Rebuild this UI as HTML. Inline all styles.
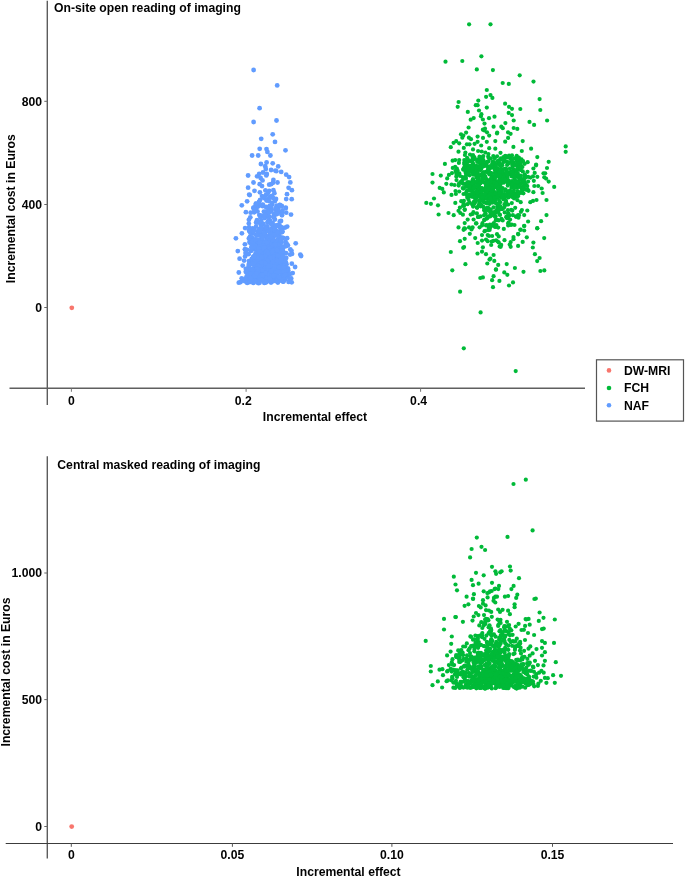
<!DOCTYPE html>
<html><head><meta charset="utf-8"><style>
html,body{margin:0;padding:0;background:#fff;}
svg{display:block;}
text{font-family:"Liberation Sans",sans-serif;font-weight:bold;font-size:12.2px;fill:#000;}
</style></head><body>
<svg width="685" height="878" viewBox="0 0 685 878">
<rect width="685" height="878" fill="#fff"/>
<g stroke="#3a3a3a" stroke-width="1.2" fill="none">
<line x1="47.3" y1="0.8" x2="47.3" y2="405" stroke="#5c5c5c" stroke-width="1.4"/>
<line x1="9.5" y1="388.2" x2="585" y2="388.2" stroke="#5f5f5f" stroke-width="1.4"/>
<line x1="44.3" y1="101.3" x2="47.5" y2="101.3" stroke="#666" stroke-width="1"/>
<line x1="44.3" y1="204.5" x2="47.5" y2="204.5" stroke="#666" stroke-width="1"/>
<line x1="44.3" y1="307.5" x2="47.5" y2="307.5" stroke="#666" stroke-width="1"/>
<line x1="71.4" y1="388.5" x2="71.4" y2="391.8" stroke="#777" stroke-width="1"/>
<line x1="246.1" y1="388.5" x2="246.1" y2="391.8" stroke="#777" stroke-width="1"/>
<line x1="420.6" y1="388.5" x2="420.6" y2="391.8" stroke="#777" stroke-width="1"/>
<line x1="47.3" y1="456.3" x2="47.3" y2="858.6" stroke="#5c5c5c" stroke-width="1.4"/>
<line x1="5.7" y1="843.5" x2="673" y2="843.5" stroke="#3c3c3c" stroke-width="1.1"/>
<line x1="44.3" y1="573" x2="47.5" y2="573" stroke="#666" stroke-width="1"/>
<line x1="44.3" y1="699.6" x2="47.5" y2="699.6" stroke="#666" stroke-width="1"/>
<line x1="44.3" y1="826.5" x2="47.5" y2="826.5" stroke="#666" stroke-width="1"/>
<line x1="71.3" y1="843.4" x2="71.3" y2="846.8" stroke="#555" stroke-width="1"/>
<line x1="232.4" y1="843.4" x2="232.4" y2="846.8" stroke="#555" stroke-width="1"/>
<line x1="391.9" y1="843.4" x2="391.9" y2="846.8" stroke="#555" stroke-width="1"/>
<line x1="552.5" y1="843.4" x2="552.5" y2="846.8" stroke="#555" stroke-width="1"/>
<rect x="596.5" y="359.8" width="87" height="61.3" fill="none" stroke="#555"/>
</g>
<g fill="#619CFF"><circle cx="267.4" cy="272.9" r="2.4"/>
<circle cx="282.6" cy="254.9" r="2.4"/>
<circle cx="281.1" cy="263.2" r="2.4"/>
<circle cx="261.1" cy="278.7" r="2.4"/>
<circle cx="263.6" cy="241.7" r="2.4"/>
<circle cx="260.9" cy="268.1" r="2.4"/>
<circle cx="273.6" cy="278.6" r="2.4"/>
<circle cx="266.4" cy="276.1" r="2.4"/>
<circle cx="275.6" cy="274.7" r="2.4"/>
<circle cx="245.8" cy="268.8" r="2.4"/>
<circle cx="285.0" cy="270.8" r="2.4"/>
<circle cx="265.9" cy="253.4" r="2.4"/>
<circle cx="274.8" cy="248.9" r="2.4"/>
<circle cx="265.4" cy="277.3" r="2.4"/>
<circle cx="262.6" cy="247.8" r="2.4"/>
<circle cx="276.5" cy="240.5" r="2.4"/>
<circle cx="264.7" cy="247.6" r="2.4"/>
<circle cx="265.2" cy="234.9" r="2.4"/>
<circle cx="274.9" cy="263.8" r="2.4"/>
<circle cx="257.0" cy="220.2" r="2.4"/>
<circle cx="249.6" cy="270.3" r="2.4"/>
<circle cx="271.5" cy="210.1" r="2.4"/>
<circle cx="259.3" cy="215.1" r="2.4"/>
<circle cx="244.9" cy="244.3" r="2.4"/>
<circle cx="257.6" cy="267.9" r="2.4"/>
<circle cx="261.6" cy="266.4" r="2.4"/>
<circle cx="253.3" cy="264.0" r="2.4"/>
<circle cx="249.8" cy="262.2" r="2.4"/>
<circle cx="267.4" cy="259.7" r="2.4"/>
<circle cx="277.3" cy="257.7" r="2.4"/>
<circle cx="258.4" cy="274.0" r="2.4"/>
<circle cx="271.4" cy="229.7" r="2.4"/>
<circle cx="275.2" cy="227.8" r="2.4"/>
<circle cx="263.5" cy="269.3" r="2.4"/>
<circle cx="273.3" cy="243.7" r="2.4"/>
<circle cx="279.0" cy="234.6" r="2.4"/>
<circle cx="264.6" cy="268.4" r="2.4"/>
<circle cx="257.6" cy="277.3" r="2.4"/>
<circle cx="271.0" cy="256.4" r="2.4"/>
<circle cx="269.8" cy="275.5" r="2.4"/>
<circle cx="279.6" cy="225.6" r="2.4"/>
<circle cx="252.2" cy="260.5" r="2.4"/>
<circle cx="259.4" cy="246.4" r="2.4"/>
<circle cx="257.4" cy="282.5" r="2.4"/>
<circle cx="268.5" cy="278.4" r="2.4"/>
<circle cx="273.1" cy="265.8" r="2.4"/>
<circle cx="258.5" cy="268.7" r="2.4"/>
<circle cx="282.9" cy="266.5" r="2.4"/>
<circle cx="271.6" cy="279.7" r="2.4"/>
<circle cx="278.0" cy="277.0" r="2.4"/>
<circle cx="251.7" cy="230.0" r="2.4"/>
<circle cx="274.1" cy="259.8" r="2.4"/>
<circle cx="273.9" cy="260.2" r="2.4"/>
<circle cx="246.7" cy="276.2" r="2.4"/>
<circle cx="271.0" cy="257.2" r="2.4"/>
<circle cx="264.1" cy="269.5" r="2.4"/>
<circle cx="276.0" cy="280.0" r="2.4"/>
<circle cx="262.0" cy="275.3" r="2.4"/>
<circle cx="266.8" cy="274.9" r="2.4"/>
<circle cx="270.9" cy="257.4" r="2.4"/>
<circle cx="256.9" cy="244.4" r="2.4"/>
<circle cx="265.8" cy="248.8" r="2.4"/>
<circle cx="272.7" cy="276.0" r="2.4"/>
<circle cx="261.0" cy="225.2" r="2.4"/>
<circle cx="279.5" cy="278.5" r="2.4"/>
<circle cx="274.0" cy="230.7" r="2.4"/>
<circle cx="265.0" cy="262.1" r="2.4"/>
<circle cx="274.3" cy="263.2" r="2.4"/>
<circle cx="281.5" cy="271.1" r="2.4"/>
<circle cx="287.6" cy="270.3" r="2.4"/>
<circle cx="248.9" cy="238.5" r="2.4"/>
<circle cx="272.3" cy="250.2" r="2.4"/>
<circle cx="265.9" cy="260.4" r="2.4"/>
<circle cx="255.4" cy="253.7" r="2.4"/>
<circle cx="281.5" cy="242.5" r="2.4"/>
<circle cx="252.5" cy="238.2" r="2.4"/>
<circle cx="273.5" cy="261.2" r="2.4"/>
<circle cx="282.0" cy="215.3" r="2.4"/>
<circle cx="248.6" cy="266.8" r="2.4"/>
<circle cx="263.5" cy="251.9" r="2.4"/>
<circle cx="251.9" cy="243.6" r="2.4"/>
<circle cx="269.8" cy="261.3" r="2.4"/>
<circle cx="284.4" cy="261.5" r="2.4"/>
<circle cx="290.3" cy="249.4" r="2.4"/>
<circle cx="260.4" cy="254.0" r="2.4"/>
<circle cx="275.1" cy="256.8" r="2.4"/>
<circle cx="285.2" cy="279.5" r="2.4"/>
<circle cx="271.8" cy="228.9" r="2.4"/>
<circle cx="258.4" cy="261.9" r="2.4"/>
<circle cx="270.4" cy="259.3" r="2.4"/>
<circle cx="266.8" cy="257.9" r="2.4"/>
<circle cx="264.7" cy="278.6" r="2.4"/>
<circle cx="258.6" cy="283.2" r="2.4"/>
<circle cx="271.5" cy="232.9" r="2.4"/>
<circle cx="265.9" cy="265.2" r="2.4"/>
<circle cx="264.5" cy="268.3" r="2.4"/>
<circle cx="252.2" cy="279.7" r="2.4"/>
<circle cx="280.9" cy="227.2" r="2.4"/>
<circle cx="264.8" cy="260.4" r="2.4"/>
<circle cx="250.4" cy="261.7" r="2.4"/>
<circle cx="282.3" cy="262.1" r="2.4"/>
<circle cx="273.1" cy="230.5" r="2.4"/>
<circle cx="291.2" cy="278.5" r="2.4"/>
<circle cx="267.7" cy="262.2" r="2.4"/>
<circle cx="261.7" cy="235.2" r="2.4"/>
<circle cx="250.4" cy="271.0" r="2.4"/>
<circle cx="282.2" cy="250.7" r="2.4"/>
<circle cx="257.6" cy="249.8" r="2.4"/>
<circle cx="259.6" cy="264.6" r="2.4"/>
<circle cx="273.9" cy="261.4" r="2.4"/>
<circle cx="257.5" cy="211.4" r="2.4"/>
<circle cx="263.9" cy="211.6" r="2.4"/>
<circle cx="269.2" cy="229.6" r="2.4"/>
<circle cx="279.6" cy="279.1" r="2.4"/>
<circle cx="267.3" cy="252.7" r="2.4"/>
<circle cx="277.6" cy="257.9" r="2.4"/>
<circle cx="262.2" cy="250.6" r="2.4"/>
<circle cx="270.8" cy="263.9" r="2.4"/>
<circle cx="242.4" cy="280.4" r="2.4"/>
<circle cx="250.3" cy="272.2" r="2.4"/>
<circle cx="276.2" cy="225.7" r="2.4"/>
<circle cx="260.2" cy="245.8" r="2.4"/>
<circle cx="273.7" cy="235.8" r="2.4"/>
<circle cx="273.2" cy="237.3" r="2.4"/>
<circle cx="282.2" cy="232.1" r="2.4"/>
<circle cx="276.3" cy="257.9" r="2.4"/>
<circle cx="278.7" cy="212.2" r="2.4"/>
<circle cx="259.0" cy="258.7" r="2.4"/>
<circle cx="258.6" cy="269.0" r="2.4"/>
<circle cx="261.4" cy="215.7" r="2.4"/>
<circle cx="254.0" cy="276.3" r="2.4"/>
<circle cx="260.7" cy="234.3" r="2.4"/>
<circle cx="265.9" cy="250.0" r="2.4"/>
<circle cx="269.9" cy="230.7" r="2.4"/>
<circle cx="263.1" cy="259.9" r="2.4"/>
<circle cx="244.9" cy="249.3" r="2.4"/>
<circle cx="266.2" cy="277.7" r="2.4"/>
<circle cx="269.6" cy="271.9" r="2.4"/>
<circle cx="279.5" cy="231.9" r="2.4"/>
<circle cx="273.6" cy="217.3" r="2.4"/>
<circle cx="259.6" cy="233.4" r="2.4"/>
<circle cx="258.7" cy="279.9" r="2.4"/>
<circle cx="290.1" cy="254.6" r="2.4"/>
<circle cx="275.7" cy="279.0" r="2.4"/>
<circle cx="288.1" cy="275.0" r="2.4"/>
<circle cx="291.5" cy="250.8" r="2.4"/>
<circle cx="257.6" cy="247.5" r="2.4"/>
<circle cx="271.4" cy="260.2" r="2.4"/>
<circle cx="272.3" cy="269.9" r="2.4"/>
<circle cx="273.4" cy="252.2" r="2.4"/>
<circle cx="273.2" cy="247.0" r="2.4"/>
<circle cx="269.3" cy="267.8" r="2.4"/>
<circle cx="269.0" cy="241.8" r="2.4"/>
<circle cx="249.7" cy="264.9" r="2.4"/>
<circle cx="265.1" cy="243.4" r="2.4"/>
<circle cx="258.4" cy="277.1" r="2.4"/>
<circle cx="268.5" cy="236.5" r="2.4"/>
<circle cx="261.6" cy="279.9" r="2.4"/>
<circle cx="274.1" cy="231.0" r="2.4"/>
<circle cx="276.4" cy="254.1" r="2.4"/>
<circle cx="270.5" cy="245.6" r="2.4"/>
<circle cx="270.6" cy="209.0" r="2.4"/>
<circle cx="268.1" cy="221.2" r="2.4"/>
<circle cx="261.9" cy="267.9" r="2.4"/>
<circle cx="265.1" cy="270.1" r="2.4"/>
<circle cx="261.3" cy="273.4" r="2.4"/>
<circle cx="271.5" cy="269.3" r="2.4"/>
<circle cx="267.2" cy="280.0" r="2.4"/>
<circle cx="273.7" cy="280.2" r="2.4"/>
<circle cx="251.7" cy="247.2" r="2.4"/>
<circle cx="258.2" cy="277.6" r="2.4"/>
<circle cx="258.6" cy="269.6" r="2.4"/>
<circle cx="264.7" cy="265.4" r="2.4"/>
<circle cx="260.5" cy="276.9" r="2.4"/>
<circle cx="270.3" cy="267.3" r="2.4"/>
<circle cx="260.4" cy="279.5" r="2.4"/>
<circle cx="254.7" cy="240.8" r="2.4"/>
<circle cx="257.3" cy="278.0" r="2.4"/>
<circle cx="282.1" cy="231.9" r="2.4"/>
<circle cx="267.5" cy="277.9" r="2.4"/>
<circle cx="253.6" cy="256.8" r="2.4"/>
<circle cx="267.1" cy="278.8" r="2.4"/>
<circle cx="249.1" cy="227.3" r="2.4"/>
<circle cx="249.5" cy="277.2" r="2.4"/>
<circle cx="272.5" cy="254.7" r="2.4"/>
<circle cx="270.5" cy="266.3" r="2.4"/>
<circle cx="278.5" cy="261.1" r="2.4"/>
<circle cx="272.4" cy="259.4" r="2.4"/>
<circle cx="270.0" cy="269.0" r="2.4"/>
<circle cx="277.9" cy="282.6" r="2.4"/>
<circle cx="268.9" cy="275.1" r="2.4"/>
<circle cx="270.9" cy="271.9" r="2.4"/>
<circle cx="265.5" cy="279.6" r="2.4"/>
<circle cx="274.3" cy="263.0" r="2.4"/>
<circle cx="276.1" cy="279.6" r="2.4"/>
<circle cx="261.2" cy="261.8" r="2.4"/>
<circle cx="254.5" cy="239.9" r="2.4"/>
<circle cx="271.2" cy="267.6" r="2.4"/>
<circle cx="261.1" cy="249.6" r="2.4"/>
<circle cx="275.0" cy="250.9" r="2.4"/>
<circle cx="261.8" cy="237.6" r="2.4"/>
<circle cx="265.6" cy="250.6" r="2.4"/>
<circle cx="268.0" cy="268.3" r="2.4"/>
<circle cx="269.2" cy="216.9" r="2.4"/>
<circle cx="255.2" cy="255.8" r="2.4"/>
<circle cx="259.0" cy="278.1" r="2.4"/>
<circle cx="250.0" cy="273.1" r="2.4"/>
<circle cx="249.6" cy="262.0" r="2.4"/>
<circle cx="256.2" cy="260.9" r="2.4"/>
<circle cx="276.5" cy="226.0" r="2.4"/>
<circle cx="286.2" cy="258.0" r="2.4"/>
<circle cx="266.7" cy="269.7" r="2.4"/>
<circle cx="279.6" cy="266.5" r="2.4"/>
<circle cx="264.0" cy="281.0" r="2.4"/>
<circle cx="245.0" cy="281.3" r="2.4"/>
<circle cx="268.7" cy="280.2" r="2.4"/>
<circle cx="272.1" cy="259.3" r="2.4"/>
<circle cx="262.1" cy="258.0" r="2.4"/>
<circle cx="270.5" cy="271.5" r="2.4"/>
<circle cx="273.6" cy="278.2" r="2.4"/>
<circle cx="257.1" cy="251.2" r="2.4"/>
<circle cx="250.0" cy="236.8" r="2.4"/>
<circle cx="264.5" cy="270.7" r="2.4"/>
<circle cx="264.6" cy="278.1" r="2.4"/>
<circle cx="262.9" cy="204.7" r="2.4"/>
<circle cx="278.4" cy="272.3" r="2.4"/>
<circle cx="262.2" cy="243.8" r="2.4"/>
<circle cx="275.0" cy="265.4" r="2.4"/>
<circle cx="277.8" cy="232.2" r="2.4"/>
<circle cx="275.2" cy="232.8" r="2.4"/>
<circle cx="279.0" cy="263.3" r="2.4"/>
<circle cx="262.5" cy="253.5" r="2.4"/>
<circle cx="275.5" cy="255.5" r="2.4"/>
<circle cx="290.3" cy="273.8" r="2.4"/>
<circle cx="276.2" cy="231.3" r="2.4"/>
<circle cx="259.9" cy="266.4" r="2.4"/>
<circle cx="274.0" cy="235.4" r="2.4"/>
<circle cx="281.5" cy="254.0" r="2.4"/>
<circle cx="271.2" cy="237.4" r="2.4"/>
<circle cx="260.5" cy="266.0" r="2.4"/>
<circle cx="284.7" cy="270.7" r="2.4"/>
<circle cx="252.6" cy="228.3" r="2.4"/>
<circle cx="272.8" cy="270.4" r="2.4"/>
<circle cx="266.8" cy="216.6" r="2.4"/>
<circle cx="253.3" cy="259.2" r="2.4"/>
<circle cx="281.0" cy="221.0" r="2.4"/>
<circle cx="271.0" cy="254.1" r="2.4"/>
<circle cx="253.6" cy="264.7" r="2.4"/>
<circle cx="273.9" cy="270.8" r="2.4"/>
<circle cx="262.0" cy="264.7" r="2.4"/>
<circle cx="245.1" cy="256.4" r="2.4"/>
<circle cx="259.1" cy="205.7" r="2.4"/>
<circle cx="270.0" cy="273.7" r="2.4"/>
<circle cx="274.3" cy="255.7" r="2.4"/>
<circle cx="268.9" cy="260.9" r="2.4"/>
<circle cx="267.5" cy="275.7" r="2.4"/>
<circle cx="272.4" cy="276.0" r="2.4"/>
<circle cx="280.5" cy="257.8" r="2.4"/>
<circle cx="268.7" cy="270.0" r="2.4"/>
<circle cx="270.4" cy="263.2" r="2.4"/>
<circle cx="273.2" cy="267.1" r="2.4"/>
<circle cx="254.8" cy="245.1" r="2.4"/>
<circle cx="258.8" cy="264.0" r="2.4"/>
<circle cx="284.6" cy="253.2" r="2.4"/>
<circle cx="270.9" cy="267.7" r="2.4"/>
<circle cx="263.7" cy="234.1" r="2.4"/>
<circle cx="270.9" cy="268.1" r="2.4"/>
<circle cx="261.5" cy="249.3" r="2.4"/>
<circle cx="270.2" cy="234.8" r="2.4"/>
<circle cx="259.3" cy="228.9" r="2.4"/>
<circle cx="270.2" cy="266.8" r="2.4"/>
<circle cx="248.9" cy="219.8" r="2.4"/>
<circle cx="282.3" cy="259.2" r="2.4"/>
<circle cx="261.1" cy="258.4" r="2.4"/>
<circle cx="248.8" cy="223.6" r="2.4"/>
<circle cx="262.7" cy="206.2" r="2.4"/>
<circle cx="268.8" cy="245.1" r="2.4"/>
<circle cx="253.8" cy="269.4" r="2.4"/>
<circle cx="271.6" cy="261.6" r="2.4"/>
<circle cx="252.3" cy="248.3" r="2.4"/>
<circle cx="270.9" cy="256.6" r="2.4"/>
<circle cx="263.4" cy="276.6" r="2.4"/>
<circle cx="269.2" cy="271.4" r="2.4"/>
<circle cx="246.2" cy="271.9" r="2.4"/>
<circle cx="253.8" cy="248.6" r="2.4"/>
<circle cx="272.3" cy="252.7" r="2.4"/>
<circle cx="266.6" cy="260.9" r="2.4"/>
<circle cx="285.8" cy="262.7" r="2.4"/>
<circle cx="258.9" cy="266.4" r="2.4"/>
<circle cx="269.0" cy="247.8" r="2.4"/>
<circle cx="258.2" cy="260.3" r="2.4"/>
<circle cx="256.6" cy="251.9" r="2.4"/>
<circle cx="266.6" cy="267.4" r="2.4"/>
<circle cx="266.5" cy="237.3" r="2.4"/>
<circle cx="276.7" cy="257.3" r="2.4"/>
<circle cx="268.5" cy="251.6" r="2.4"/>
<circle cx="258.3" cy="271.2" r="2.4"/>
<circle cx="269.4" cy="254.9" r="2.4"/>
<circle cx="281.6" cy="265.1" r="2.4"/>
<circle cx="265.4" cy="244.7" r="2.4"/>
<circle cx="256.9" cy="273.6" r="2.4"/>
<circle cx="274.2" cy="273.9" r="2.4"/>
<circle cx="265.0" cy="253.2" r="2.4"/>
<circle cx="289.2" cy="274.0" r="2.4"/>
<circle cx="277.7" cy="252.4" r="2.4"/>
<circle cx="277.2" cy="206.7" r="2.4"/>
<circle cx="269.1" cy="262.9" r="2.4"/>
<circle cx="266.5" cy="279.2" r="2.4"/>
<circle cx="270.9" cy="275.2" r="2.4"/>
<circle cx="281.9" cy="280.3" r="2.4"/>
<circle cx="273.1" cy="230.9" r="2.4"/>
<circle cx="263.0" cy="255.0" r="2.4"/>
<circle cx="281.7" cy="256.9" r="2.4"/>
<circle cx="269.2" cy="276.2" r="2.4"/>
<circle cx="266.1" cy="231.3" r="2.4"/>
<circle cx="257.9" cy="272.8" r="2.4"/>
<circle cx="260.5" cy="278.7" r="2.4"/>
<circle cx="259.7" cy="235.3" r="2.4"/>
<circle cx="278.7" cy="265.5" r="2.4"/>
<circle cx="273.5" cy="270.2" r="2.4"/>
<circle cx="264.5" cy="249.4" r="2.4"/>
<circle cx="279.0" cy="279.3" r="2.4"/>
<circle cx="272.0" cy="258.3" r="2.4"/>
<circle cx="271.3" cy="238.1" r="2.4"/>
<circle cx="264.3" cy="282.9" r="2.4"/>
<circle cx="285.5" cy="241.7" r="2.4"/>
<circle cx="288.2" cy="270.3" r="2.4"/>
<circle cx="283.4" cy="268.9" r="2.4"/>
<circle cx="241.7" cy="278.3" r="2.4"/>
<circle cx="267.3" cy="226.4" r="2.4"/>
<circle cx="265.6" cy="272.6" r="2.4"/>
<circle cx="269.5" cy="279.9" r="2.4"/>
<circle cx="249.8" cy="272.2" r="2.4"/>
<circle cx="272.2" cy="259.8" r="2.4"/>
<circle cx="261.9" cy="258.3" r="2.4"/>
<circle cx="271.0" cy="282.5" r="2.4"/>
<circle cx="272.3" cy="250.9" r="2.4"/>
<circle cx="265.7" cy="264.5" r="2.4"/>
<circle cx="270.6" cy="279.7" r="2.4"/>
<circle cx="266.8" cy="263.2" r="2.4"/>
<circle cx="275.7" cy="209.2" r="2.4"/>
<circle cx="272.8" cy="275.4" r="2.4"/>
<circle cx="260.7" cy="244.2" r="2.4"/>
<circle cx="260.2" cy="274.4" r="2.4"/>
<circle cx="287.1" cy="238.2" r="2.4"/>
<circle cx="265.8" cy="282.6" r="2.4"/>
<circle cx="278.4" cy="238.2" r="2.4"/>
<circle cx="271.5" cy="209.8" r="2.4"/>
<circle cx="260.5" cy="260.0" r="2.4"/>
<circle cx="258.4" cy="273.0" r="2.4"/>
<circle cx="268.4" cy="240.2" r="2.4"/>
<circle cx="270.0" cy="220.6" r="2.4"/>
<circle cx="274.1" cy="257.1" r="2.4"/>
<circle cx="252.4" cy="276.0" r="2.4"/>
<circle cx="260.2" cy="272.3" r="2.4"/>
<circle cx="265.9" cy="265.5" r="2.4"/>
<circle cx="285.4" cy="274.5" r="2.4"/>
<circle cx="272.0" cy="261.0" r="2.4"/>
<circle cx="260.8" cy="254.2" r="2.4"/>
<circle cx="272.0" cy="276.0" r="2.4"/>
<circle cx="271.2" cy="270.9" r="2.4"/>
<circle cx="285.0" cy="275.3" r="2.4"/>
<circle cx="271.1" cy="278.8" r="2.4"/>
<circle cx="272.0" cy="257.0" r="2.4"/>
<circle cx="271.3" cy="277.6" r="2.4"/>
<circle cx="258.4" cy="261.0" r="2.4"/>
<circle cx="273.2" cy="228.8" r="2.4"/>
<circle cx="264.6" cy="216.3" r="2.4"/>
<circle cx="257.7" cy="206.7" r="2.4"/>
<circle cx="266.6" cy="277.6" r="2.4"/>
<circle cx="264.4" cy="256.8" r="2.4"/>
<circle cx="275.7" cy="272.3" r="2.4"/>
<circle cx="266.5" cy="279.1" r="2.4"/>
<circle cx="283.7" cy="247.2" r="2.4"/>
<circle cx="278.4" cy="224.9" r="2.4"/>
<circle cx="281.6" cy="214.5" r="2.4"/>
<circle cx="265.7" cy="277.8" r="2.4"/>
<circle cx="262.2" cy="240.8" r="2.4"/>
<circle cx="263.8" cy="269.9" r="2.4"/>
<circle cx="277.9" cy="242.3" r="2.4"/>
<circle cx="268.3" cy="252.0" r="2.4"/>
<circle cx="249.9" cy="276.5" r="2.4"/>
<circle cx="266.6" cy="240.6" r="2.4"/>
<circle cx="250.7" cy="279.5" r="2.4"/>
<circle cx="268.9" cy="271.7" r="2.4"/>
<circle cx="253.2" cy="245.4" r="2.4"/>
<circle cx="268.4" cy="278.3" r="2.4"/>
<circle cx="266.1" cy="267.3" r="2.4"/>
<circle cx="247.9" cy="271.8" r="2.4"/>
<circle cx="275.6" cy="267.4" r="2.4"/>
<circle cx="250.0" cy="241.3" r="2.4"/>
<circle cx="287.9" cy="268.3" r="2.4"/>
<circle cx="259.1" cy="256.4" r="2.4"/>
<circle cx="261.3" cy="269.3" r="2.4"/>
<circle cx="264.9" cy="274.3" r="2.4"/>
<circle cx="250.4" cy="269.4" r="2.4"/>
<circle cx="281.9" cy="229.9" r="2.4"/>
<circle cx="272.7" cy="256.8" r="2.4"/>
<circle cx="258.4" cy="278.7" r="2.4"/>
<circle cx="263.8" cy="277.1" r="2.4"/>
<circle cx="249.6" cy="242.5" r="2.4"/>
<circle cx="263.0" cy="265.7" r="2.4"/>
<circle cx="277.8" cy="276.1" r="2.4"/>
<circle cx="262.0" cy="224.1" r="2.4"/>
<circle cx="268.7" cy="278.2" r="2.4"/>
<circle cx="279.1" cy="257.4" r="2.4"/>
<circle cx="282.5" cy="256.3" r="2.4"/>
<circle cx="261.7" cy="243.4" r="2.4"/>
<circle cx="258.5" cy="205.6" r="2.4"/>
<circle cx="272.2" cy="204.6" r="2.4"/>
<circle cx="262.8" cy="241.2" r="2.4"/>
<circle cx="263.4" cy="223.9" r="2.4"/>
<circle cx="279.4" cy="233.6" r="2.4"/>
<circle cx="286.4" cy="271.0" r="2.4"/>
<circle cx="270.1" cy="272.3" r="2.4"/>
<circle cx="264.8" cy="246.6" r="2.4"/>
<circle cx="245.3" cy="249.4" r="2.4"/>
<circle cx="266.8" cy="277.6" r="2.4"/>
<circle cx="254.8" cy="241.3" r="2.4"/>
<circle cx="275.3" cy="247.8" r="2.4"/>
<circle cx="268.6" cy="276.2" r="2.4"/>
<circle cx="264.8" cy="242.7" r="2.4"/>
<circle cx="275.2" cy="258.5" r="2.4"/>
<circle cx="285.7" cy="267.6" r="2.4"/>
<circle cx="258.6" cy="259.8" r="2.4"/>
<circle cx="274.9" cy="219.5" r="2.4"/>
<circle cx="275.3" cy="256.6" r="2.4"/>
<circle cx="249.2" cy="263.6" r="2.4"/>
<circle cx="277.8" cy="253.4" r="2.4"/>
<circle cx="282.6" cy="281.3" r="2.4"/>
<circle cx="269.6" cy="206.1" r="2.4"/>
<circle cx="266.3" cy="272.1" r="2.4"/>
<circle cx="276.1" cy="232.5" r="2.4"/>
<circle cx="249.3" cy="279.8" r="2.4"/>
<circle cx="268.1" cy="216.6" r="2.4"/>
<circle cx="279.1" cy="245.6" r="2.4"/>
<circle cx="252.7" cy="274.5" r="2.4"/>
<circle cx="278.4" cy="277.4" r="2.4"/>
<circle cx="262.2" cy="260.0" r="2.4"/>
<circle cx="265.8" cy="262.5" r="2.4"/>
<circle cx="270.7" cy="232.3" r="2.4"/>
<circle cx="253.5" cy="244.7" r="2.4"/>
<circle cx="279.1" cy="251.2" r="2.4"/>
<circle cx="258.5" cy="249.9" r="2.4"/>
<circle cx="271.1" cy="277.5" r="2.4"/>
<circle cx="260.2" cy="276.5" r="2.4"/>
<circle cx="263.3" cy="216.4" r="2.4"/>
<circle cx="280.7" cy="265.3" r="2.4"/>
<circle cx="269.5" cy="231.7" r="2.4"/>
<circle cx="262.5" cy="248.8" r="2.4"/>
<circle cx="252.6" cy="249.4" r="2.4"/>
<circle cx="280.3" cy="243.9" r="2.4"/>
<circle cx="275.4" cy="266.5" r="2.4"/>
<circle cx="263.2" cy="259.3" r="2.4"/>
<circle cx="269.8" cy="240.5" r="2.4"/>
<circle cx="255.2" cy="277.9" r="2.4"/>
<circle cx="255.3" cy="247.5" r="2.4"/>
<circle cx="257.5" cy="231.3" r="2.4"/>
<circle cx="271.1" cy="258.5" r="2.4"/>
<circle cx="270.4" cy="245.7" r="2.4"/>
<circle cx="258.4" cy="252.6" r="2.4"/>
<circle cx="275.5" cy="280.5" r="2.4"/>
<circle cx="276.0" cy="265.6" r="2.4"/>
<circle cx="269.0" cy="247.7" r="2.4"/>
<circle cx="278.9" cy="264.2" r="2.4"/>
<circle cx="263.7" cy="229.7" r="2.4"/>
<circle cx="265.7" cy="211.6" r="2.4"/>
<circle cx="272.4" cy="272.5" r="2.4"/>
<circle cx="266.6" cy="273.9" r="2.4"/>
<circle cx="276.1" cy="281.2" r="2.4"/>
<circle cx="252.6" cy="233.7" r="2.4"/>
<circle cx="283.4" cy="281.2" r="2.4"/>
<circle cx="258.0" cy="249.4" r="2.4"/>
<circle cx="251.2" cy="262.4" r="2.4"/>
<circle cx="273.9" cy="264.2" r="2.4"/>
<circle cx="281.6" cy="274.2" r="2.4"/>
<circle cx="279.3" cy="280.7" r="2.4"/>
<circle cx="276.6" cy="211.3" r="2.4"/>
<circle cx="249.1" cy="230.6" r="2.4"/>
<circle cx="258.0" cy="257.0" r="2.4"/>
<circle cx="261.7" cy="261.6" r="2.4"/>
<circle cx="256.3" cy="259.9" r="2.4"/>
<circle cx="279.9" cy="253.9" r="2.4"/>
<circle cx="269.1" cy="266.1" r="2.4"/>
<circle cx="266.7" cy="261.9" r="2.4"/>
<circle cx="272.6" cy="225.0" r="2.4"/>
<circle cx="256.1" cy="257.2" r="2.4"/>
<circle cx="256.6" cy="255.3" r="2.4"/>
<circle cx="256.9" cy="263.1" r="2.4"/>
<circle cx="272.7" cy="260.9" r="2.4"/>
<circle cx="270.9" cy="265.1" r="2.4"/>
<circle cx="273.6" cy="230.1" r="2.4"/>
<circle cx="279.4" cy="261.9" r="2.4"/>
<circle cx="268.7" cy="271.7" r="2.4"/>
<circle cx="251.5" cy="276.3" r="2.4"/>
<circle cx="260.9" cy="258.2" r="2.4"/>
<circle cx="278.7" cy="263.7" r="2.4"/>
<circle cx="279.7" cy="227.1" r="2.4"/>
<circle cx="279.4" cy="248.3" r="2.4"/>
<circle cx="264.6" cy="218.0" r="2.4"/>
<circle cx="279.4" cy="271.2" r="2.4"/>
<circle cx="270.9" cy="265.3" r="2.4"/>
<circle cx="282.2" cy="276.2" r="2.4"/>
<circle cx="262.8" cy="257.7" r="2.4"/>
<circle cx="260.0" cy="264.1" r="2.4"/>
<circle cx="266.9" cy="275.2" r="2.4"/>
<circle cx="273.9" cy="269.0" r="2.4"/>
<circle cx="268.8" cy="273.4" r="2.4"/>
<circle cx="273.4" cy="272.2" r="2.4"/>
<circle cx="248.6" cy="254.2" r="2.4"/>
<circle cx="257.1" cy="270.4" r="2.4"/>
<circle cx="268.9" cy="258.5" r="2.4"/>
<circle cx="256.3" cy="267.9" r="2.4"/>
<circle cx="251.6" cy="244.3" r="2.4"/>
<circle cx="253.1" cy="272.7" r="2.4"/>
<circle cx="256.4" cy="268.8" r="2.4"/>
<circle cx="264.9" cy="231.8" r="2.4"/>
<circle cx="255.2" cy="266.6" r="2.4"/>
<circle cx="269.7" cy="252.6" r="2.4"/>
<circle cx="286.5" cy="264.2" r="2.4"/>
<circle cx="265.3" cy="281.7" r="2.4"/>
<circle cx="281.7" cy="212.5" r="2.4"/>
<circle cx="270.3" cy="272.8" r="2.4"/>
<circle cx="254.1" cy="212.3" r="2.4"/>
<circle cx="264.1" cy="261.8" r="2.4"/>
<circle cx="255.7" cy="205.7" r="2.4"/>
<circle cx="275.8" cy="264.7" r="2.4"/>
<circle cx="253.7" cy="248.7" r="2.4"/>
<circle cx="282.2" cy="238.0" r="2.4"/>
<circle cx="273.6" cy="280.0" r="2.4"/>
<circle cx="276.0" cy="278.3" r="2.4"/>
<circle cx="284.9" cy="227.7" r="2.4"/>
<circle cx="257.9" cy="265.0" r="2.4"/>
<circle cx="278.3" cy="263.2" r="2.4"/>
<circle cx="269.9" cy="244.5" r="2.4"/>
<circle cx="247.9" cy="280.4" r="2.4"/>
<circle cx="272.5" cy="281.4" r="2.4"/>
<circle cx="271.6" cy="268.3" r="2.4"/>
<circle cx="260.1" cy="273.8" r="2.4"/>
<circle cx="276.5" cy="277.6" r="2.4"/>
<circle cx="268.3" cy="246.5" r="2.4"/>
<circle cx="263.3" cy="251.0" r="2.4"/>
<circle cx="274.1" cy="216.2" r="2.4"/>
<circle cx="285.9" cy="270.7" r="2.4"/>
<circle cx="252.8" cy="278.2" r="2.4"/>
<circle cx="273.5" cy="254.2" r="2.4"/>
<circle cx="271.0" cy="270.0" r="2.4"/>
<circle cx="250.6" cy="261.1" r="2.4"/>
<circle cx="285.6" cy="277.7" r="2.4"/>
<circle cx="256.0" cy="226.7" r="2.4"/>
<circle cx="287.0" cy="276.4" r="2.4"/>
<circle cx="267.6" cy="266.8" r="2.4"/>
<circle cx="265.1" cy="269.2" r="2.4"/>
<circle cx="284.3" cy="268.4" r="2.4"/>
<circle cx="269.6" cy="242.6" r="2.4"/>
<circle cx="270.7" cy="211.7" r="2.4"/>
<circle cx="281.8" cy="206.0" r="2.4"/>
<circle cx="277.3" cy="260.0" r="2.4"/>
<circle cx="248.9" cy="261.1" r="2.4"/>
<circle cx="280.0" cy="261.2" r="2.4"/>
<circle cx="256.3" cy="247.9" r="2.4"/>
<circle cx="268.7" cy="254.6" r="2.4"/>
<circle cx="252.3" cy="241.2" r="2.4"/>
<circle cx="285.7" cy="244.6" r="2.4"/>
<circle cx="255.3" cy="274.1" r="2.4"/>
<circle cx="264.8" cy="264.7" r="2.4"/>
<circle cx="280.9" cy="271.1" r="2.4"/>
<circle cx="250.7" cy="279.0" r="2.4"/>
<circle cx="266.6" cy="214.9" r="2.4"/>
<circle cx="264.6" cy="278.3" r="2.4"/>
<circle cx="272.4" cy="267.1" r="2.4"/>
<circle cx="261.7" cy="228.4" r="2.4"/>
<circle cx="269.8" cy="248.1" r="2.4"/>
<circle cx="262.7" cy="264.2" r="2.4"/>
<circle cx="272.4" cy="239.1" r="2.4"/>
<circle cx="265.8" cy="268.7" r="2.4"/>
<circle cx="259.5" cy="245.3" r="2.4"/>
<circle cx="266.7" cy="242.8" r="2.4"/>
<circle cx="271.2" cy="252.1" r="2.4"/>
<circle cx="261.4" cy="246.1" r="2.4"/>
<circle cx="270.5" cy="233.7" r="2.4"/>
<circle cx="283.8" cy="268.0" r="2.4"/>
<circle cx="253.3" cy="282.9" r="2.4"/>
<circle cx="265.7" cy="260.9" r="2.4"/>
<circle cx="271.5" cy="280.9" r="2.4"/>
<circle cx="280.9" cy="261.6" r="2.4"/>
<circle cx="264.4" cy="257.4" r="2.4"/>
<circle cx="240.4" cy="282.2" r="2.4"/>
<circle cx="278.7" cy="262.9" r="2.4"/>
<circle cx="269.1" cy="259.1" r="2.4"/>
<circle cx="252.1" cy="259.4" r="2.4"/>
<circle cx="279.8" cy="221.5" r="2.4"/>
<circle cx="249.3" cy="230.9" r="2.4"/>
<circle cx="283.7" cy="272.3" r="2.4"/>
<circle cx="258.2" cy="241.4" r="2.4"/>
<circle cx="254.3" cy="230.1" r="2.4"/>
<circle cx="276.7" cy="205.6" r="2.4"/>
<circle cx="254.4" cy="280.7" r="2.4"/>
<circle cx="276.9" cy="276.7" r="2.4"/>
<circle cx="253.3" cy="256.7" r="2.4"/>
<circle cx="276.3" cy="262.4" r="2.4"/>
<circle cx="268.1" cy="253.8" r="2.4"/>
<circle cx="269.7" cy="275.8" r="2.4"/>
<circle cx="245.2" cy="279.0" r="2.4"/>
<circle cx="263.8" cy="272.2" r="2.4"/>
<circle cx="262.4" cy="280.0" r="2.4"/>
<circle cx="252.6" cy="261.5" r="2.4"/>
<circle cx="286.7" cy="243.7" r="2.4"/>
<circle cx="263.4" cy="267.0" r="2.4"/>
<circle cx="253.9" cy="208.2" r="2.4"/>
<circle cx="286.1" cy="253.1" r="2.4"/>
<circle cx="264.8" cy="281.9" r="2.4"/>
<circle cx="256.8" cy="235.5" r="2.4"/>
<circle cx="267.2" cy="281.5" r="2.4"/>
<circle cx="259.1" cy="250.4" r="2.4"/>
<circle cx="263.4" cy="248.2" r="2.4"/>
<circle cx="271.5" cy="247.9" r="2.4"/>
<circle cx="268.7" cy="258.1" r="2.4"/>
<circle cx="271.0" cy="207.4" r="2.4"/>
<circle cx="266.3" cy="281.3" r="2.4"/>
<circle cx="276.7" cy="231.1" r="2.4"/>
<circle cx="277.1" cy="247.0" r="2.4"/>
<circle cx="262.7" cy="274.3" r="2.4"/>
<circle cx="268.2" cy="275.3" r="2.4"/>
<circle cx="271.8" cy="244.0" r="2.4"/>
<circle cx="264.9" cy="276.6" r="2.4"/>
<circle cx="267.1" cy="236.5" r="2.4"/>
<circle cx="254.4" cy="209.8" r="2.4"/>
<circle cx="274.8" cy="226.7" r="2.4"/>
<circle cx="261.3" cy="221.0" r="2.4"/>
<circle cx="270.8" cy="234.3" r="2.4"/>
<circle cx="265.5" cy="227.7" r="2.4"/>
<circle cx="258.2" cy="281.6" r="2.4"/>
<circle cx="260.7" cy="274.3" r="2.4"/>
<circle cx="260.2" cy="258.4" r="2.4"/>
<circle cx="280.4" cy="268.5" r="2.4"/>
<circle cx="258.7" cy="239.6" r="2.4"/>
<circle cx="260.4" cy="277.1" r="2.4"/>
<circle cx="260.6" cy="262.4" r="2.4"/>
<circle cx="284.1" cy="275.5" r="2.4"/>
<circle cx="282.1" cy="246.9" r="2.4"/>
<circle cx="265.2" cy="272.0" r="2.4"/>
<circle cx="250.7" cy="212.7" r="2.4"/>
<circle cx="272.2" cy="258.5" r="2.4"/>
<circle cx="274.7" cy="273.0" r="2.4"/>
<circle cx="278.1" cy="234.6" r="2.4"/>
<circle cx="280.9" cy="229.2" r="2.4"/>
<circle cx="283.0" cy="250.9" r="2.4"/>
<circle cx="283.4" cy="281.7" r="2.4"/>
<circle cx="269.0" cy="276.6" r="2.4"/>
<circle cx="260.5" cy="217.6" r="2.4"/>
<circle cx="288.6" cy="281.9" r="2.4"/>
<circle cx="278.3" cy="244.1" r="2.4"/>
<circle cx="246.4" cy="269.7" r="2.4"/>
<circle cx="268.0" cy="273.6" r="2.4"/>
<circle cx="265.4" cy="274.3" r="2.4"/>
<circle cx="261.1" cy="273.5" r="2.4"/>
<circle cx="250.3" cy="232.8" r="2.4"/>
<circle cx="276.9" cy="233.9" r="2.4"/>
<circle cx="256.2" cy="206.6" r="2.4"/>
<circle cx="262.7" cy="249.3" r="2.4"/>
<circle cx="260.1" cy="256.2" r="2.4"/>
<circle cx="258.6" cy="222.4" r="2.4"/>
<circle cx="259.2" cy="247.0" r="2.4"/>
<circle cx="256.1" cy="222.5" r="2.4"/>
<circle cx="261.6" cy="280.1" r="2.4"/>
<circle cx="278.1" cy="269.5" r="2.4"/>
<circle cx="268.4" cy="209.0" r="2.4"/>
<circle cx="269.7" cy="276.0" r="2.4"/>
<circle cx="263.2" cy="248.0" r="2.4"/>
<circle cx="264.0" cy="255.9" r="2.4"/>
<circle cx="269.5" cy="279.6" r="2.4"/>
<circle cx="245.8" cy="271.7" r="2.4"/>
<circle cx="285.5" cy="261.8" r="2.4"/>
<circle cx="257.9" cy="275.9" r="2.4"/>
<circle cx="260.5" cy="269.9" r="2.4"/>
<circle cx="282.4" cy="251.2" r="2.4"/>
<circle cx="269.6" cy="222.4" r="2.4"/>
<circle cx="267.5" cy="222.4" r="2.4"/>
<circle cx="260.3" cy="230.9" r="2.4"/>
<circle cx="249.0" cy="274.7" r="2.4"/>
<circle cx="269.1" cy="255.2" r="2.4"/>
<circle cx="280.7" cy="279.3" r="2.4"/>
<circle cx="256.7" cy="257.0" r="2.4"/>
<circle cx="272.8" cy="256.9" r="2.4"/>
<circle cx="267.0" cy="277.2" r="2.4"/>
<circle cx="274.9" cy="243.2" r="2.4"/>
<circle cx="258.5" cy="269.3" r="2.4"/>
<circle cx="255.1" cy="246.1" r="2.4"/>
<circle cx="245.5" cy="253.1" r="2.4"/>
<circle cx="253.2" cy="268.6" r="2.4"/>
<circle cx="250.6" cy="273.8" r="2.4"/>
<circle cx="270.5" cy="280.4" r="2.4"/>
<circle cx="259.4" cy="259.7" r="2.4"/>
<circle cx="244.1" cy="260.6" r="2.4"/>
<circle cx="257.4" cy="257.7" r="2.4"/>
<circle cx="252.6" cy="269.3" r="2.4"/>
<circle cx="281.3" cy="280.0" r="2.4"/>
<circle cx="280.4" cy="271.4" r="2.4"/>
<circle cx="253.8" cy="277.5" r="2.4"/>
<circle cx="250.0" cy="281.4" r="2.4"/>
<circle cx="255.5" cy="239.4" r="2.4"/>
<circle cx="263.4" cy="245.9" r="2.4"/>
<circle cx="257.7" cy="222.4" r="2.4"/>
<circle cx="266.7" cy="269.0" r="2.4"/>
<circle cx="280.8" cy="259.4" r="2.4"/>
<circle cx="251.0" cy="250.9" r="2.4"/>
<circle cx="262.6" cy="270.5" r="2.4"/>
<circle cx="292.0" cy="253.8" r="2.4"/>
<circle cx="287.9" cy="245.3" r="2.4"/>
<circle cx="277.9" cy="240.5" r="2.4"/>
<circle cx="265.5" cy="253.5" r="2.4"/>
<circle cx="274.6" cy="261.0" r="2.4"/>
<circle cx="270.2" cy="255.8" r="2.4"/>
<circle cx="251.6" cy="260.6" r="2.4"/>
<circle cx="251.8" cy="258.8" r="2.4"/>
<circle cx="258.9" cy="248.4" r="2.4"/>
<circle cx="263.0" cy="275.1" r="2.4"/>
<circle cx="273.6" cy="244.9" r="2.4"/>
<circle cx="275.1" cy="243.2" r="2.4"/>
<circle cx="270.0" cy="274.0" r="2.4"/>
<circle cx="256.1" cy="234.8" r="2.4"/>
<circle cx="265.6" cy="226.6" r="2.4"/>
<circle cx="280.6" cy="237.3" r="2.4"/>
<circle cx="256.5" cy="269.7" r="2.4"/>
<circle cx="261.5" cy="254.8" r="2.4"/>
<circle cx="272.4" cy="250.1" r="2.4"/>
<circle cx="264.8" cy="235.9" r="2.4"/>
<circle cx="272.8" cy="239.8" r="2.4"/>
<circle cx="272.3" cy="266.4" r="2.4"/>
<circle cx="261.1" cy="265.6" r="2.4"/>
<circle cx="267.9" cy="268.7" r="2.4"/>
<circle cx="269.3" cy="265.7" r="2.4"/>
<circle cx="259.6" cy="251.8" r="2.4"/>
<circle cx="254.1" cy="256.5" r="2.4"/>
<circle cx="268.6" cy="270.8" r="2.4"/>
<circle cx="278.1" cy="255.8" r="2.4"/>
<circle cx="274.4" cy="266.3" r="2.4"/>
<circle cx="272.7" cy="262.0" r="2.4"/>
<circle cx="272.8" cy="257.1" r="2.4"/>
<circle cx="270.0" cy="274.1" r="2.4"/>
<circle cx="279.0" cy="277.1" r="2.4"/>
<circle cx="289.5" cy="278.7" r="2.4"/>
<circle cx="267.6" cy="273.5" r="2.4"/>
<circle cx="270.0" cy="253.7" r="2.4"/>
<circle cx="279.0" cy="267.1" r="2.4"/>
<circle cx="286.4" cy="246.0" r="2.4"/>
<circle cx="270.6" cy="253.0" r="2.4"/>
<circle cx="271.2" cy="223.2" r="2.4"/>
<circle cx="253.1" cy="261.8" r="2.4"/>
<circle cx="279.9" cy="250.6" r="2.4"/>
<circle cx="264.1" cy="233.0" r="2.4"/>
<circle cx="247.2" cy="282.9" r="2.4"/>
<circle cx="265.3" cy="273.2" r="2.4"/>
<circle cx="247.1" cy="249.8" r="2.4"/>
<circle cx="256.5" cy="269.7" r="2.4"/>
<circle cx="279.4" cy="239.7" r="2.4"/>
<circle cx="250.2" cy="229.4" r="2.4"/>
<circle cx="270.1" cy="229.7" r="2.4"/>
<circle cx="273.5" cy="216.2" r="2.4"/>
<circle cx="283.9" cy="272.1" r="2.4"/>
<circle cx="277.7" cy="232.1" r="2.4"/>
<circle cx="269.8" cy="275.3" r="2.4"/>
<circle cx="268.0" cy="262.7" r="2.4"/>
<circle cx="266.4" cy="263.5" r="2.4"/>
<circle cx="280.2" cy="240.8" r="2.4"/>
<circle cx="259.6" cy="265.3" r="2.4"/>
<circle cx="273.1" cy="250.5" r="2.4"/>
<circle cx="266.0" cy="255.3" r="2.4"/>
<circle cx="269.9" cy="257.1" r="2.4"/>
<circle cx="264.1" cy="247.4" r="2.4"/>
<circle cx="291.7" cy="282.3" r="2.4"/>
<circle cx="259.6" cy="282.7" r="2.4"/>
<circle cx="270.0" cy="279.0" r="2.4"/>
<circle cx="270.3" cy="265.7" r="2.4"/>
<circle cx="274.1" cy="213.7" r="2.4"/>
<circle cx="272.3" cy="269.6" r="2.4"/>
<circle cx="272.0" cy="274.7" r="2.4"/>
<circle cx="278.4" cy="272.0" r="2.4"/>
<circle cx="249.8" cy="282.1" r="2.4"/>
<circle cx="267.2" cy="252.4" r="2.4"/>
<circle cx="253.0" cy="247.0" r="2.4"/>
<circle cx="269.8" cy="278.6" r="2.4"/>
<circle cx="253.5" cy="231.4" r="2.4"/>
<circle cx="256.1" cy="208.4" r="2.4"/>
<circle cx="266.4" cy="251.9" r="2.4"/>
<circle cx="283.2" cy="238.0" r="2.4"/>
<circle cx="273.8" cy="275.8" r="2.4"/>
<circle cx="270.6" cy="257.6" r="2.4"/>
<circle cx="283.3" cy="267.1" r="2.4"/>
<circle cx="256.3" cy="269.4" r="2.4"/>
<circle cx="262.3" cy="275.1" r="2.4"/>
<circle cx="264.0" cy="216.6" r="2.4"/>
<circle cx="281.4" cy="227.4" r="2.4"/>
<circle cx="291.8" cy="263.7" r="2.4"/>
<circle cx="285.1" cy="274.6" r="2.4"/>
<circle cx="276.8" cy="235.4" r="2.4"/>
<circle cx="271.4" cy="236.9" r="2.4"/>
<circle cx="295.1" cy="267.0" r="2.4"/>
<circle cx="268.1" cy="231.3" r="2.4"/>
<circle cx="261.7" cy="257.1" r="2.4"/>
<circle cx="268.8" cy="213.1" r="2.4"/>
<circle cx="251.4" cy="247.3" r="2.4"/>
<circle cx="272.6" cy="222.9" r="2.4"/>
<circle cx="265.9" cy="265.6" r="2.4"/>
<circle cx="271.0" cy="271.0" r="2.4"/>
<circle cx="271.3" cy="271.1" r="2.4"/>
<circle cx="255.0" cy="276.1" r="2.4"/>
<circle cx="282.3" cy="231.2" r="2.4"/>
<circle cx="255.5" cy="281.2" r="2.4"/>
<circle cx="277.4" cy="261.1" r="2.4"/>
<circle cx="248.8" cy="264.8" r="2.4"/>
<circle cx="271.4" cy="224.5" r="2.4"/>
<circle cx="267.7" cy="260.9" r="2.4"/>
<circle cx="259.7" cy="242.5" r="2.4"/>
<circle cx="254.4" cy="262.4" r="2.4"/>
<circle cx="268.0" cy="253.6" r="2.4"/>
<circle cx="274.4" cy="234.8" r="2.4"/>
<circle cx="250.3" cy="217.3" r="2.4"/>
<circle cx="242.7" cy="265.6" r="2.4"/>
<circle cx="257.1" cy="269.0" r="2.4"/>
<circle cx="264.7" cy="214.7" r="2.4"/>
<circle cx="259.9" cy="222.1" r="2.4"/>
<circle cx="257.9" cy="271.2" r="2.4"/>
<circle cx="277.0" cy="214.0" r="2.4"/>
<circle cx="278.3" cy="208.5" r="2.4"/>
<circle cx="275.7" cy="208.1" r="2.4"/>
<circle cx="256.4" cy="273.5" r="2.4"/>
<circle cx="265.0" cy="263.1" r="2.4"/>
<circle cx="250.8" cy="278.1" r="2.4"/>
<circle cx="277.3" cy="232.5" r="2.4"/>
<circle cx="268.2" cy="266.5" r="2.4"/>
<circle cx="261.6" cy="262.4" r="2.4"/>
<circle cx="283.5" cy="267.1" r="2.4"/>
<circle cx="276.0" cy="225.6" r="2.4"/>
<circle cx="277.0" cy="250.1" r="2.4"/>
<circle cx="281.0" cy="240.0" r="2.4"/>
<circle cx="275.4" cy="244.8" r="2.4"/>
<circle cx="252.6" cy="264.0" r="2.4"/>
<circle cx="262.7" cy="237.9" r="2.4"/>
<circle cx="253.6" cy="70.0" r="2.4"/>
<circle cx="277.2" cy="85.4" r="2.4"/>
<circle cx="259.6" cy="108.2" r="2.4"/>
<circle cx="253.6" cy="122.0" r="2.4"/>
<circle cx="276.5" cy="120.5" r="2.4"/>
<circle cx="272.7" cy="134.3" r="2.4"/>
<circle cx="261.2" cy="138.8" r="2.4"/>
<circle cx="275.0" cy="141.9" r="2.4"/>
<circle cx="259.7" cy="148.8" r="2.4"/>
<circle cx="266.5" cy="149.1" r="2.4"/>
<circle cx="267.4" cy="151.9" r="2.4"/>
<circle cx="285.5" cy="150.3" r="2.4"/>
<circle cx="252.1" cy="155.5" r="2.4"/>
<circle cx="258.2" cy="155.5" r="2.4"/>
<circle cx="270.4" cy="155.5" r="2.4"/>
<circle cx="260.9" cy="164.0" r="2.4"/>
<circle cx="266.6" cy="162.4" r="2.4"/>
<circle cx="272.7" cy="163.3" r="2.4"/>
<circle cx="278.2" cy="166.4" r="2.4"/>
<circle cx="265.2" cy="166.2" r="2.4"/>
<circle cx="265.8" cy="169.0" r="2.4"/>
<circle cx="271.1" cy="170.0" r="2.4"/>
<circle cx="275.3" cy="170.6" r="2.4"/>
<circle cx="276.3" cy="171.2" r="2.4"/>
<circle cx="281.2" cy="171.9" r="2.4"/>
<circle cx="286.2" cy="174.7" r="2.4"/>
<circle cx="289.1" cy="177.1" r="2.4"/>
<circle cx="248.1" cy="175.5" r="2.4"/>
<circle cx="257.1" cy="176.3" r="2.4"/>
<circle cx="259.2" cy="173.8" r="2.4"/>
<circle cx="263.0" cy="172.5" r="2.4"/>
<circle cx="266.8" cy="174.0" r="2.4"/>
<circle cx="266.3" cy="175.4" r="2.4"/>
<circle cx="260.6" cy="178.0" r="2.4"/>
<circle cx="262.5" cy="180.4" r="2.4"/>
<circle cx="273.4" cy="179.9" r="2.4"/>
<circle cx="277.5" cy="182.5" r="2.4"/>
<circle cx="273.0" cy="182.8" r="2.4"/>
<circle cx="290.3" cy="182.4" r="2.4"/>
<circle cx="253.5" cy="182.5" r="2.4"/>
<circle cx="259.7" cy="184.2" r="2.4"/>
<circle cx="262.0" cy="186.1" r="2.4"/>
<circle cx="269.2" cy="184.7" r="2.4"/>
<circle cx="271.1" cy="184.2" r="2.4"/>
<circle cx="248.1" cy="187.7" r="2.4"/>
<circle cx="288.6" cy="187.8" r="2.4"/>
<circle cx="291.9" cy="190.2" r="2.4"/>
<circle cx="254.5" cy="190.8" r="2.4"/>
<circle cx="259.9" cy="192.3" r="2.4"/>
<circle cx="265.4" cy="190.4" r="2.4"/>
<circle cx="269.2" cy="190.8" r="2.4"/>
<circle cx="273.4" cy="190.2" r="2.4"/>
<circle cx="274.4" cy="193.2" r="2.4"/>
<circle cx="249.2" cy="194.6" r="2.4"/>
<circle cx="287.0" cy="194.2" r="2.4"/>
<circle cx="249.7" cy="195.1" r="2.4"/>
<circle cx="247.1" cy="201.3" r="2.4"/>
<circle cx="241.8" cy="205.3" r="2.4"/>
<circle cx="245.9" cy="212.2" r="2.4"/>
<circle cx="286.2" cy="199.1" r="2.4"/>
<circle cx="291.7" cy="199.2" r="2.4"/>
<circle cx="285.8" cy="208.1" r="2.4"/>
<circle cx="291.0" cy="214.6" r="2.4"/>
<circle cx="262.0" cy="196.1" r="2.4"/>
<circle cx="260.1" cy="199.9" r="2.4"/>
<circle cx="255.9" cy="203.7" r="2.4"/>
<circle cx="253.5" cy="207.9" r="2.4"/>
<circle cx="279.6" cy="205.1" r="2.4"/>
<circle cx="282.4" cy="210.3" r="2.4"/>
<circle cx="286.2" cy="212.7" r="2.4"/>
<circle cx="245.1" cy="228.1" r="2.4"/>
<circle cx="241.9" cy="233.3" r="2.4"/>
<circle cx="235.9" cy="238.3" r="2.4"/>
<circle cx="287.2" cy="226.6" r="2.4"/>
<circle cx="295.7" cy="243.3" r="2.4"/>
<circle cx="300.3" cy="254.6" r="2.4"/>
<circle cx="301.1" cy="256.0" r="2.4"/>
<circle cx="292.7" cy="273.1" r="2.4"/>
<circle cx="238.8" cy="272.5" r="2.4"/>
<circle cx="238.8" cy="282.7" r="2.4"/>
<circle cx="237.8" cy="251.1" r="2.4"/>
<circle cx="239.6" cy="258.7" r="2.4"/>
<circle cx="266.0" cy="195.0" r="2.4"/>
<circle cx="270.0" cy="197.0" r="2.4"/>
<circle cx="268.0" cy="199.0" r="2.4"/>
<circle cx="272.0" cy="196.0" r="2.4"/>
<circle cx="264.0" cy="198.0" r="2.4"/>
<circle cx="276.0" cy="199.0" r="2.4"/>
<circle cx="268.0" cy="193.0" r="2.4"/>
<circle cx="273.0" cy="198.0" r="2.4"/>
<circle cx="275.0" cy="201.0" r="2.4"/>
<circle cx="269.0" cy="201.0" r="2.4"/>
<circle cx="272.0" cy="203.0" r="2.4"/>
<circle cx="266.5" cy="200.5" r="2.4"/>
<circle cx="258.9" cy="201.9" r="2.4"/>
<circle cx="256.0" cy="203.9" r="2.4"/>
<circle cx="253.6" cy="207.7" r="2.4"/>
<circle cx="254.8" cy="210.0" r="2.4"/>
<circle cx="279.9" cy="204.8" r="2.4"/>
<circle cx="285.7" cy="207.7" r="2.4"/>
<circle cx="262.0" cy="205.0" r="2.4"/>
<circle cx="266.0" cy="207.0" r="2.4"/>
<circle cx="270.0" cy="206.0" r="2.4"/></g>
<g fill="#00BA38"><circle cx="478.5" cy="167.7" r="2.1"/>
<circle cx="480.5" cy="170.1" r="2.1"/>
<circle cx="492.7" cy="188.8" r="2.1"/>
<circle cx="503.4" cy="157.2" r="2.1"/>
<circle cx="514.4" cy="195.9" r="2.1"/>
<circle cx="524.0" cy="181.7" r="2.1"/>
<circle cx="519.1" cy="163.4" r="2.1"/>
<circle cx="488.4" cy="191.4" r="2.1"/>
<circle cx="518.2" cy="160.4" r="2.1"/>
<circle cx="499.1" cy="180.9" r="2.1"/>
<circle cx="523.1" cy="181.2" r="2.1"/>
<circle cx="506.4" cy="173.7" r="2.1"/>
<circle cx="515.5" cy="184.8" r="2.1"/>
<circle cx="497.5" cy="161.2" r="2.1"/>
<circle cx="498.6" cy="174.4" r="2.1"/>
<circle cx="473.5" cy="164.9" r="2.1"/>
<circle cx="513.4" cy="174.7" r="2.1"/>
<circle cx="507.5" cy="195.0" r="2.1"/>
<circle cx="513.5" cy="162.6" r="2.1"/>
<circle cx="482.7" cy="194.8" r="2.1"/>
<circle cx="472.0" cy="165.8" r="2.1"/>
<circle cx="523.4" cy="193.3" r="2.1"/>
<circle cx="525.2" cy="177.8" r="2.1"/>
<circle cx="494.8" cy="168.3" r="2.1"/>
<circle cx="480.8" cy="174.7" r="2.1"/>
<circle cx="490.8" cy="158.7" r="2.1"/>
<circle cx="493.9" cy="184.0" r="2.1"/>
<circle cx="521.7" cy="179.1" r="2.1"/>
<circle cx="467.0" cy="171.9" r="2.1"/>
<circle cx="511.8" cy="176.4" r="2.1"/>
<circle cx="477.4" cy="191.6" r="2.1"/>
<circle cx="488.2" cy="188.8" r="2.1"/>
<circle cx="485.3" cy="165.0" r="2.1"/>
<circle cx="519.1" cy="159.3" r="2.1"/>
<circle cx="468.9" cy="194.6" r="2.1"/>
<circle cx="477.5" cy="189.0" r="2.1"/>
<circle cx="484.0" cy="165.1" r="2.1"/>
<circle cx="509.2" cy="173.9" r="2.1"/>
<circle cx="509.8" cy="192.4" r="2.1"/>
<circle cx="504.3" cy="179.3" r="2.1"/>
<circle cx="483.9" cy="189.5" r="2.1"/>
<circle cx="522.4" cy="189.9" r="2.1"/>
<circle cx="517.7" cy="173.0" r="2.1"/>
<circle cx="470.4" cy="161.2" r="2.1"/>
<circle cx="489.4" cy="198.3" r="2.1"/>
<circle cx="498.7" cy="163.4" r="2.1"/>
<circle cx="502.9" cy="197.9" r="2.1"/>
<circle cx="482.6" cy="158.0" r="2.1"/>
<circle cx="518.8" cy="192.3" r="2.1"/>
<circle cx="466.9" cy="167.3" r="2.1"/>
<circle cx="505.5" cy="168.5" r="2.1"/>
<circle cx="488.1" cy="169.9" r="2.1"/>
<circle cx="469.9" cy="171.1" r="2.1"/>
<circle cx="482.3" cy="158.1" r="2.1"/>
<circle cx="505.1" cy="158.1" r="2.1"/>
<circle cx="493.3" cy="183.2" r="2.1"/>
<circle cx="474.8" cy="194.4" r="2.1"/>
<circle cx="520.2" cy="192.5" r="2.1"/>
<circle cx="493.4" cy="198.1" r="2.1"/>
<circle cx="469.5" cy="182.3" r="2.1"/>
<circle cx="471.8" cy="166.4" r="2.1"/>
<circle cx="498.1" cy="194.1" r="2.1"/>
<circle cx="487.6" cy="192.7" r="2.1"/>
<circle cx="504.1" cy="197.9" r="2.1"/>
<circle cx="511.8" cy="196.8" r="2.1"/>
<circle cx="499.3" cy="189.2" r="2.1"/>
<circle cx="512.8" cy="195.1" r="2.1"/>
<circle cx="474.8" cy="158.7" r="2.1"/>
<circle cx="502.8" cy="174.7" r="2.1"/>
<circle cx="524.7" cy="163.8" r="2.1"/>
<circle cx="520.6" cy="168.0" r="2.1"/>
<circle cx="496.9" cy="171.2" r="2.1"/>
<circle cx="499.2" cy="194.5" r="2.1"/>
<circle cx="486.4" cy="179.0" r="2.1"/>
<circle cx="484.0" cy="195.3" r="2.1"/>
<circle cx="500.0" cy="172.0" r="2.1"/>
<circle cx="511.7" cy="194.4" r="2.1"/>
<circle cx="488.7" cy="169.9" r="2.1"/>
<circle cx="483.0" cy="175.2" r="2.1"/>
<circle cx="487.0" cy="161.9" r="2.1"/>
<circle cx="514.1" cy="175.5" r="2.1"/>
<circle cx="500.9" cy="158.4" r="2.1"/>
<circle cx="523.0" cy="186.3" r="2.1"/>
<circle cx="481.3" cy="158.7" r="2.1"/>
<circle cx="515.4" cy="176.7" r="2.1"/>
<circle cx="479.3" cy="160.2" r="2.1"/>
<circle cx="523.5" cy="183.1" r="2.1"/>
<circle cx="473.3" cy="170.0" r="2.1"/>
<circle cx="473.4" cy="157.1" r="2.1"/>
<circle cx="519.8" cy="183.0" r="2.1"/>
<circle cx="493.8" cy="164.2" r="2.1"/>
<circle cx="477.9" cy="160.7" r="2.1"/>
<circle cx="487.9" cy="197.3" r="2.1"/>
<circle cx="469.6" cy="175.3" r="2.1"/>
<circle cx="475.1" cy="167.4" r="2.1"/>
<circle cx="509.4" cy="173.1" r="2.1"/>
<circle cx="519.2" cy="167.4" r="2.1"/>
<circle cx="495.7" cy="164.3" r="2.1"/>
<circle cx="472.9" cy="184.4" r="2.1"/>
<circle cx="515.7" cy="183.0" r="2.1"/>
<circle cx="502.0" cy="195.9" r="2.1"/>
<circle cx="484.8" cy="165.9" r="2.1"/>
<circle cx="480.4" cy="195.4" r="2.1"/>
<circle cx="507.6" cy="172.0" r="2.1"/>
<circle cx="514.1" cy="170.0" r="2.1"/>
<circle cx="492.6" cy="161.9" r="2.1"/>
<circle cx="494.2" cy="192.3" r="2.1"/>
<circle cx="510.4" cy="193.6" r="2.1"/>
<circle cx="490.6" cy="167.9" r="2.1"/>
<circle cx="511.9" cy="184.3" r="2.1"/>
<circle cx="482.5" cy="174.6" r="2.1"/>
<circle cx="498.3" cy="175.8" r="2.1"/>
<circle cx="485.1" cy="179.0" r="2.1"/>
<circle cx="518.5" cy="163.1" r="2.1"/>
<circle cx="505.2" cy="155.8" r="2.1"/>
<circle cx="467.4" cy="165.8" r="2.1"/>
<circle cx="509.1" cy="155.7" r="2.1"/>
<circle cx="508.3" cy="192.0" r="2.1"/>
<circle cx="497.5" cy="173.3" r="2.1"/>
<circle cx="517.8" cy="164.0" r="2.1"/>
<circle cx="494.7" cy="194.8" r="2.1"/>
<circle cx="485.8" cy="183.5" r="2.1"/>
<circle cx="474.3" cy="195.7" r="2.1"/>
<circle cx="485.5" cy="198.2" r="2.1"/>
<circle cx="480.5" cy="165.2" r="2.1"/>
<circle cx="499.0" cy="186.4" r="2.1"/>
<circle cx="507.1" cy="164.9" r="2.1"/>
<circle cx="481.6" cy="188.4" r="2.1"/>
<circle cx="507.1" cy="179.7" r="2.1"/>
<circle cx="505.9" cy="179.1" r="2.1"/>
<circle cx="508.8" cy="180.6" r="2.1"/>
<circle cx="502.7" cy="176.1" r="2.1"/>
<circle cx="495.7" cy="170.9" r="2.1"/>
<circle cx="469.2" cy="172.2" r="2.1"/>
<circle cx="486.0" cy="163.2" r="2.1"/>
<circle cx="481.7" cy="166.5" r="2.1"/>
<circle cx="475.3" cy="174.8" r="2.1"/>
<circle cx="507.5" cy="191.3" r="2.1"/>
<circle cx="522.4" cy="167.0" r="2.1"/>
<circle cx="476.6" cy="191.9" r="2.1"/>
<circle cx="510.8" cy="158.9" r="2.1"/>
<circle cx="520.8" cy="165.7" r="2.1"/>
<circle cx="467.9" cy="159.4" r="2.1"/>
<circle cx="470.2" cy="168.4" r="2.1"/>
<circle cx="510.0" cy="191.2" r="2.1"/>
<circle cx="524.7" cy="175.4" r="2.1"/>
<circle cx="481.3" cy="161.2" r="2.1"/>
<circle cx="487.2" cy="195.7" r="2.1"/>
<circle cx="478.1" cy="176.0" r="2.1"/>
<circle cx="517.4" cy="177.0" r="2.1"/>
<circle cx="502.0" cy="169.7" r="2.1"/>
<circle cx="493.4" cy="180.7" r="2.1"/>
<circle cx="466.4" cy="191.8" r="2.1"/>
<circle cx="515.2" cy="186.8" r="2.1"/>
<circle cx="495.2" cy="172.3" r="2.1"/>
<circle cx="487.7" cy="184.3" r="2.1"/>
<circle cx="499.4" cy="191.7" r="2.1"/>
<circle cx="477.7" cy="183.5" r="2.1"/>
<circle cx="494.3" cy="167.3" r="2.1"/>
<circle cx="515.2" cy="158.6" r="2.1"/>
<circle cx="518.3" cy="162.1" r="2.1"/>
<circle cx="483.9" cy="182.5" r="2.1"/>
<circle cx="477.8" cy="189.3" r="2.1"/>
<circle cx="480.6" cy="162.6" r="2.1"/>
<circle cx="505.2" cy="190.7" r="2.1"/>
<circle cx="468.2" cy="183.0" r="2.1"/>
<circle cx="514.7" cy="182.8" r="2.1"/>
<circle cx="468.9" cy="184.7" r="2.1"/>
<circle cx="511.3" cy="193.2" r="2.1"/>
<circle cx="471.5" cy="171.5" r="2.1"/>
<circle cx="495.0" cy="180.5" r="2.1"/>
<circle cx="512.3" cy="164.6" r="2.1"/>
<circle cx="519.7" cy="165.9" r="2.1"/>
<circle cx="489.5" cy="166.6" r="2.1"/>
<circle cx="491.2" cy="195.8" r="2.1"/>
<circle cx="488.5" cy="196.5" r="2.1"/>
<circle cx="494.0" cy="177.9" r="2.1"/>
<circle cx="498.6" cy="171.7" r="2.1"/>
<circle cx="464.2" cy="169.5" r="2.1"/>
<circle cx="518.5" cy="163.1" r="2.1"/>
<circle cx="477.8" cy="172.1" r="2.1"/>
<circle cx="510.0" cy="190.6" r="2.1"/>
<circle cx="477.9" cy="159.9" r="2.1"/>
<circle cx="495.8" cy="171.3" r="2.1"/>
<circle cx="472.5" cy="167.5" r="2.1"/>
<circle cx="498.5" cy="192.1" r="2.1"/>
<circle cx="490.3" cy="180.0" r="2.1"/>
<circle cx="478.1" cy="180.4" r="2.1"/>
<circle cx="482.1" cy="163.7" r="2.1"/>
<circle cx="489.4" cy="180.4" r="2.1"/>
<circle cx="502.8" cy="180.7" r="2.1"/>
<circle cx="517.2" cy="173.4" r="2.1"/>
<circle cx="500.1" cy="178.8" r="2.1"/>
<circle cx="525.9" cy="184.5" r="2.1"/>
<circle cx="478.3" cy="196.4" r="2.1"/>
<circle cx="492.3" cy="184.0" r="2.1"/>
<circle cx="510.3" cy="172.0" r="2.1"/>
<circle cx="515.2" cy="184.4" r="2.1"/>
<circle cx="506.4" cy="156.3" r="2.1"/>
<circle cx="517.9" cy="169.1" r="2.1"/>
<circle cx="477.2" cy="172.8" r="2.1"/>
<circle cx="509.6" cy="183.2" r="2.1"/>
<circle cx="516.9" cy="175.5" r="2.1"/>
<circle cx="483.9" cy="172.3" r="2.1"/>
<circle cx="502.6" cy="188.2" r="2.1"/>
<circle cx="497.1" cy="156.3" r="2.1"/>
<circle cx="514.3" cy="170.1" r="2.1"/>
<circle cx="516.8" cy="183.9" r="2.1"/>
<circle cx="474.4" cy="159.2" r="2.1"/>
<circle cx="465.6" cy="178.0" r="2.1"/>
<circle cx="466.2" cy="174.9" r="2.1"/>
<circle cx="505.1" cy="161.3" r="2.1"/>
<circle cx="496.0" cy="197.3" r="2.1"/>
<circle cx="507.1" cy="161.5" r="2.1"/>
<circle cx="480.0" cy="159.7" r="2.1"/>
<circle cx="488.7" cy="169.5" r="2.1"/>
<circle cx="519.5" cy="178.8" r="2.1"/>
<circle cx="472.6" cy="158.7" r="2.1"/>
<circle cx="474.2" cy="187.2" r="2.1"/>
<circle cx="477.6" cy="161.2" r="2.1"/>
<circle cx="513.1" cy="164.3" r="2.1"/>
<circle cx="522.8" cy="171.4" r="2.1"/>
<circle cx="523.1" cy="161.2" r="2.1"/>
<circle cx="481.2" cy="160.2" r="2.1"/>
<circle cx="499.5" cy="163.4" r="2.1"/>
<circle cx="471.7" cy="186.2" r="2.1"/>
<circle cx="478.7" cy="169.1" r="2.1"/>
<circle cx="491.8" cy="189.7" r="2.1"/>
<circle cx="466.9" cy="166.1" r="2.1"/>
<circle cx="499.2" cy="183.3" r="2.1"/>
<circle cx="503.8" cy="173.0" r="2.1"/>
<circle cx="472.2" cy="189.5" r="2.1"/>
<circle cx="514.7" cy="158.3" r="2.1"/>
<circle cx="512.8" cy="168.2" r="2.1"/>
<circle cx="488.1" cy="188.1" r="2.1"/>
<circle cx="467.5" cy="190.5" r="2.1"/>
<circle cx="473.0" cy="163.3" r="2.1"/>
<circle cx="520.7" cy="183.7" r="2.1"/>
<circle cx="518.8" cy="168.1" r="2.1"/>
<circle cx="473.2" cy="174.7" r="2.1"/>
<circle cx="520.4" cy="169.8" r="2.1"/>
<circle cx="503.5" cy="162.1" r="2.1"/>
<circle cx="510.8" cy="162.0" r="2.1"/>
<circle cx="488.4" cy="161.6" r="2.1"/>
<circle cx="492.7" cy="198.3" r="2.1"/>
<circle cx="500.1" cy="188.8" r="2.1"/>
<circle cx="520.9" cy="175.7" r="2.1"/>
<circle cx="473.1" cy="179.8" r="2.1"/>
<circle cx="481.1" cy="175.8" r="2.1"/>
<circle cx="518.1" cy="176.1" r="2.1"/>
<circle cx="488.1" cy="167.5" r="2.1"/>
<circle cx="497.4" cy="168.5" r="2.1"/>
<circle cx="480.6" cy="181.3" r="2.1"/>
<circle cx="510.9" cy="157.5" r="2.1"/>
<circle cx="489.9" cy="180.3" r="2.1"/>
<circle cx="470.5" cy="168.1" r="2.1"/>
<circle cx="479.5" cy="156.7" r="2.1"/>
<circle cx="479.9" cy="162.7" r="2.1"/>
<circle cx="502.2" cy="197.1" r="2.1"/>
<circle cx="490.7" cy="172.9" r="2.1"/>
<circle cx="506.4" cy="169.2" r="2.1"/>
<circle cx="475.2" cy="182.5" r="2.1"/>
<circle cx="525.1" cy="183.7" r="2.1"/>
<circle cx="494.7" cy="182.5" r="2.1"/>
<circle cx="489.0" cy="158.3" r="2.1"/>
<circle cx="481.2" cy="169.0" r="2.1"/>
<circle cx="472.8" cy="188.5" r="2.1"/>
<circle cx="498.7" cy="173.8" r="2.1"/>
<circle cx="487.8" cy="189.8" r="2.1"/>
<circle cx="509.3" cy="156.8" r="2.1"/>
<circle cx="504.1" cy="160.2" r="2.1"/>
<circle cx="481.4" cy="196.4" r="2.1"/>
<circle cx="518.9" cy="186.5" r="2.1"/>
<circle cx="513.3" cy="172.3" r="2.1"/>
<circle cx="500.8" cy="159.5" r="2.1"/>
<circle cx="512.5" cy="166.1" r="2.1"/>
<circle cx="506.2" cy="176.8" r="2.1"/>
<circle cx="482.6" cy="165.6" r="2.1"/>
<circle cx="511.8" cy="194.4" r="2.1"/>
<circle cx="521.2" cy="192.8" r="2.1"/>
<circle cx="511.9" cy="160.3" r="2.1"/>
<circle cx="492.1" cy="167.1" r="2.1"/>
<circle cx="487.7" cy="170.3" r="2.1"/>
<circle cx="476.3" cy="196.7" r="2.1"/>
<circle cx="492.5" cy="163.5" r="2.1"/>
<circle cx="515.1" cy="197.4" r="2.1"/>
<circle cx="516.7" cy="155.9" r="2.1"/>
<circle cx="490.4" cy="184.1" r="2.1"/>
<circle cx="498.9" cy="184.8" r="2.1"/>
<circle cx="505.6" cy="179.8" r="2.1"/>
<circle cx="483.2" cy="164.5" r="2.1"/>
<circle cx="521.7" cy="188.5" r="2.1"/>
<circle cx="485.0" cy="191.4" r="2.1"/>
<circle cx="503.8" cy="180.4" r="2.1"/>
<circle cx="493.4" cy="177.1" r="2.1"/>
<circle cx="500.1" cy="173.5" r="2.1"/>
<circle cx="477.8" cy="194.9" r="2.1"/>
<circle cx="472.9" cy="179.2" r="2.1"/>
<circle cx="501.1" cy="171.6" r="2.1"/>
<circle cx="512.0" cy="181.2" r="2.1"/>
<circle cx="501.1" cy="181.3" r="2.1"/>
<circle cx="479.7" cy="157.3" r="2.1"/>
<circle cx="478.9" cy="168.5" r="2.1"/>
<circle cx="475.6" cy="182.6" r="2.1"/>
<circle cx="520.6" cy="160.0" r="2.1"/>
<circle cx="476.9" cy="169.3" r="2.1"/>
<circle cx="495.4" cy="185.6" r="2.1"/>
<circle cx="474.6" cy="186.6" r="2.1"/>
<circle cx="467.7" cy="169.3" r="2.1"/>
<circle cx="478.9" cy="181.4" r="2.1"/>
<circle cx="468.2" cy="185.4" r="2.1"/>
<circle cx="497.4" cy="195.5" r="2.1"/>
<circle cx="506.4" cy="173.9" r="2.1"/>
<circle cx="489.6" cy="191.0" r="2.1"/>
<circle cx="490.1" cy="166.4" r="2.1"/>
<circle cx="475.4" cy="168.9" r="2.1"/>
<circle cx="515.1" cy="196.4" r="2.1"/>
<circle cx="480.0" cy="163.4" r="2.1"/>
<circle cx="524.0" cy="186.9" r="2.1"/>
<circle cx="483.6" cy="172.4" r="2.1"/>
<circle cx="517.5" cy="174.0" r="2.1"/>
<circle cx="504.1" cy="194.0" r="2.1"/>
<circle cx="483.3" cy="156.1" r="2.1"/>
<circle cx="521.9" cy="191.6" r="2.1"/>
<circle cx="505.4" cy="179.4" r="2.1"/>
<circle cx="464.7" cy="166.9" r="2.1"/>
<circle cx="504.8" cy="176.0" r="2.1"/>
<circle cx="518.8" cy="187.0" r="2.1"/>
<circle cx="506.6" cy="171.5" r="2.1"/>
<circle cx="516.8" cy="160.9" r="2.1"/>
<circle cx="507.1" cy="181.2" r="2.1"/>
<circle cx="488.7" cy="184.6" r="2.1"/>
<circle cx="525.4" cy="176.6" r="2.1"/>
<circle cx="483.1" cy="178.3" r="2.1"/>
<circle cx="488.7" cy="184.8" r="2.1"/>
<circle cx="478.6" cy="176.3" r="2.1"/>
<circle cx="486.6" cy="181.8" r="2.1"/>
<circle cx="500.1" cy="197.1" r="2.1"/>
<circle cx="495.6" cy="166.9" r="2.1"/>
<circle cx="499.7" cy="164.4" r="2.1"/>
<circle cx="521.5" cy="159.4" r="2.1"/>
<circle cx="476.5" cy="177.6" r="2.1"/>
<circle cx="469.1" cy="184.6" r="2.1"/>
<circle cx="495.7" cy="173.6" r="2.1"/>
<circle cx="518.9" cy="167.4" r="2.1"/>
<circle cx="494.6" cy="158.3" r="2.1"/>
<circle cx="510.8" cy="191.6" r="2.1"/>
<circle cx="479.1" cy="184.9" r="2.1"/>
<circle cx="520.8" cy="162.6" r="2.1"/>
<circle cx="481.1" cy="157.4" r="2.1"/>
<circle cx="516.5" cy="185.8" r="2.1"/>
<circle cx="503.7" cy="169.2" r="2.1"/>
<circle cx="472.4" cy="181.0" r="2.1"/>
<circle cx="514.5" cy="179.1" r="2.1"/>
<circle cx="514.3" cy="177.4" r="2.1"/>
<circle cx="497.4" cy="184.8" r="2.1"/>
<circle cx="491.7" cy="194.6" r="2.1"/>
<circle cx="508.4" cy="157.4" r="2.1"/>
<circle cx="474.6" cy="183.0" r="2.1"/>
<circle cx="493.3" cy="156.0" r="2.1"/>
<circle cx="510.2" cy="193.6" r="2.1"/>
<circle cx="513.2" cy="193.9" r="2.1"/>
<circle cx="514.7" cy="193.4" r="2.1"/>
<circle cx="515.1" cy="185.7" r="2.1"/>
<circle cx="504.9" cy="177.7" r="2.1"/>
<circle cx="490.9" cy="181.7" r="2.1"/>
<circle cx="502.3" cy="172.5" r="2.1"/>
<circle cx="494.2" cy="167.7" r="2.1"/>
<circle cx="482.6" cy="165.4" r="2.1"/>
<circle cx="470.1" cy="190.6" r="2.1"/>
<circle cx="507.8" cy="193.8" r="2.1"/>
<circle cx="482.5" cy="180.8" r="2.1"/>
<circle cx="506.8" cy="196.7" r="2.1"/>
<circle cx="508.3" cy="197.4" r="2.1"/>
<circle cx="495.4" cy="184.2" r="2.1"/>
<circle cx="476.5" cy="165.8" r="2.1"/>
<circle cx="472.2" cy="166.2" r="2.1"/>
<circle cx="505.4" cy="180.6" r="2.1"/>
<circle cx="494.9" cy="192.3" r="2.1"/>
<circle cx="481.3" cy="190.5" r="2.1"/>
<circle cx="492.9" cy="185.4" r="2.1"/>
<circle cx="519.7" cy="180.0" r="2.1"/>
<circle cx="477.5" cy="190.9" r="2.1"/>
<circle cx="517.9" cy="163.5" r="2.1"/>
<circle cx="488.9" cy="186.4" r="2.1"/>
<circle cx="472.8" cy="173.3" r="2.1"/>
<circle cx="517.9" cy="157.6" r="2.1"/>
<circle cx="518.9" cy="183.0" r="2.1"/>
<circle cx="518.3" cy="168.2" r="2.1"/>
<circle cx="485.7" cy="188.5" r="2.1"/>
<circle cx="508.6" cy="163.5" r="2.1"/>
<circle cx="485.4" cy="176.9" r="2.1"/>
<circle cx="466.8" cy="161.2" r="2.1"/>
<circle cx="466.0" cy="164.8" r="2.1"/>
<circle cx="523.8" cy="180.7" r="2.1"/>
<circle cx="518.0" cy="166.1" r="2.1"/>
<circle cx="486.0" cy="171.8" r="2.1"/>
<circle cx="505.2" cy="173.3" r="2.1"/>
<circle cx="474.3" cy="157.1" r="2.1"/>
<circle cx="467.9" cy="182.1" r="2.1"/>
<circle cx="509.3" cy="192.4" r="2.1"/>
<circle cx="467.6" cy="162.2" r="2.1"/>
<circle cx="494.2" cy="182.7" r="2.1"/>
<circle cx="478.9" cy="186.8" r="2.1"/>
<circle cx="486.3" cy="196.6" r="2.1"/>
<circle cx="524.1" cy="189.0" r="2.1"/>
<circle cx="477.4" cy="195.9" r="2.1"/>
<circle cx="505.4" cy="175.5" r="2.1"/>
<circle cx="487.7" cy="172.3" r="2.1"/>
<circle cx="482.8" cy="160.0" r="2.1"/>
<circle cx="508.0" cy="156.9" r="2.1"/>
<circle cx="502.3" cy="165.2" r="2.1"/>
<circle cx="478.3" cy="179.1" r="2.1"/>
<circle cx="472.4" cy="160.6" r="2.1"/>
<circle cx="516.4" cy="171.7" r="2.1"/>
<circle cx="493.9" cy="186.0" r="2.1"/>
<circle cx="491.5" cy="175.4" r="2.1"/>
<circle cx="486.6" cy="192.4" r="2.1"/>
<circle cx="517.7" cy="191.1" r="2.1"/>
<circle cx="498.3" cy="185.7" r="2.1"/>
<circle cx="512.0" cy="155.4" r="2.1"/>
<circle cx="485.7" cy="187.3" r="2.1"/>
<circle cx="480.8" cy="160.6" r="2.1"/>
<circle cx="477.6" cy="185.7" r="2.1"/>
<circle cx="473.2" cy="182.2" r="2.1"/>
<circle cx="521.5" cy="166.3" r="2.1"/>
<circle cx="516.5" cy="181.1" r="2.1"/>
<circle cx="468.3" cy="186.5" r="2.1"/>
<circle cx="473.0" cy="192.1" r="2.1"/>
<circle cx="520.7" cy="169.8" r="2.1"/>
<circle cx="520.4" cy="163.4" r="2.1"/>
<circle cx="477.8" cy="194.3" r="2.1"/>
<circle cx="488.2" cy="183.9" r="2.1"/>
<circle cx="499.6" cy="178.4" r="2.1"/>
<circle cx="508.2" cy="204.5" r="2.1"/>
<circle cx="489.7" cy="182.4" r="2.1"/>
<circle cx="481.9" cy="188.1" r="2.1"/>
<circle cx="474.4" cy="202.4" r="2.1"/>
<circle cx="491.7" cy="195.4" r="2.1"/>
<circle cx="477.2" cy="207.8" r="2.1"/>
<circle cx="498.4" cy="206.2" r="2.1"/>
<circle cx="472.7" cy="169.2" r="2.1"/>
<circle cx="488.6" cy="208.1" r="2.1"/>
<circle cx="504.9" cy="194.4" r="2.1"/>
<circle cx="509.3" cy="215.6" r="2.1"/>
<circle cx="459.0" cy="183.4" r="2.1"/>
<circle cx="498.9" cy="220.3" r="2.1"/>
<circle cx="490.8" cy="214.3" r="2.1"/>
<circle cx="490.7" cy="185.5" r="2.1"/>
<circle cx="476.9" cy="181.2" r="2.1"/>
<circle cx="493.5" cy="207.3" r="2.1"/>
<circle cx="513.9" cy="190.4" r="2.1"/>
<circle cx="487.4" cy="209.9" r="2.1"/>
<circle cx="502.3" cy="209.1" r="2.1"/>
<circle cx="509.1" cy="195.1" r="2.1"/>
<circle cx="461.8" cy="181.0" r="2.1"/>
<circle cx="495.0" cy="177.2" r="2.1"/>
<circle cx="517.8" cy="192.3" r="2.1"/>
<circle cx="487.7" cy="199.1" r="2.1"/>
<circle cx="492.2" cy="200.9" r="2.1"/>
<circle cx="465.6" cy="193.8" r="2.1"/>
<circle cx="527.5" cy="171.8" r="2.1"/>
<circle cx="499.9" cy="159.8" r="2.1"/>
<circle cx="484.8" cy="175.7" r="2.1"/>
<circle cx="518.5" cy="217.7" r="2.1"/>
<circle cx="472.3" cy="184.2" r="2.1"/>
<circle cx="492.4" cy="213.8" r="2.1"/>
<circle cx="486.8" cy="225.2" r="2.1"/>
<circle cx="494.2" cy="165.6" r="2.1"/>
<circle cx="503.9" cy="207.8" r="2.1"/>
<circle cx="497.4" cy="206.3" r="2.1"/>
<circle cx="495.8" cy="220.3" r="2.1"/>
<circle cx="481.9" cy="194.5" r="2.1"/>
<circle cx="501.6" cy="196.4" r="2.1"/>
<circle cx="469.5" cy="187.9" r="2.1"/>
<circle cx="490.2" cy="198.2" r="2.1"/>
<circle cx="490.9" cy="193.0" r="2.1"/>
<circle cx="469.9" cy="165.8" r="2.1"/>
<circle cx="479.3" cy="200.8" r="2.1"/>
<circle cx="497.5" cy="175.9" r="2.1"/>
<circle cx="489.5" cy="228.4" r="2.1"/>
<circle cx="508.2" cy="218.1" r="2.1"/>
<circle cx="499.5" cy="214.5" r="2.1"/>
<circle cx="515.9" cy="195.6" r="2.1"/>
<circle cx="483.3" cy="177.6" r="2.1"/>
<circle cx="479.5" cy="202.1" r="2.1"/>
<circle cx="485.4" cy="213.1" r="2.1"/>
<circle cx="503.5" cy="199.5" r="2.1"/>
<circle cx="497.0" cy="188.0" r="2.1"/>
<circle cx="467.7" cy="185.2" r="2.1"/>
<circle cx="486.7" cy="165.6" r="2.1"/>
<circle cx="480.1" cy="159.8" r="2.1"/>
<circle cx="476.9" cy="213.4" r="2.1"/>
<circle cx="491.3" cy="197.6" r="2.1"/>
<circle cx="478.4" cy="206.1" r="2.1"/>
<circle cx="496.9" cy="181.4" r="2.1"/>
<circle cx="521.9" cy="210.0" r="2.1"/>
<circle cx="476.2" cy="166.8" r="2.1"/>
<circle cx="498.6" cy="189.8" r="2.1"/>
<circle cx="476.8" cy="207.4" r="2.1"/>
<circle cx="501.9" cy="197.2" r="2.1"/>
<circle cx="500.3" cy="194.4" r="2.1"/>
<circle cx="487.4" cy="194.3" r="2.1"/>
<circle cx="503.8" cy="198.6" r="2.1"/>
<circle cx="464.7" cy="209.3" r="2.1"/>
<circle cx="489.6" cy="204.0" r="2.1"/>
<circle cx="493.2" cy="212.9" r="2.1"/>
<circle cx="455.5" cy="191.0" r="2.1"/>
<circle cx="524.4" cy="177.7" r="2.1"/>
<circle cx="484.1" cy="176.2" r="2.1"/>
<circle cx="484.1" cy="210.3" r="2.1"/>
<circle cx="508.0" cy="213.5" r="2.1"/>
<circle cx="497.5" cy="198.0" r="2.1"/>
<circle cx="498.6" cy="161.0" r="2.1"/>
<circle cx="483.2" cy="198.8" r="2.1"/>
<circle cx="463.0" cy="205.9" r="2.1"/>
<circle cx="488.1" cy="230.1" r="2.1"/>
<circle cx="516.3" cy="187.7" r="2.1"/>
<circle cx="472.3" cy="156.1" r="2.1"/>
<circle cx="508.5" cy="213.5" r="2.1"/>
<circle cx="472.7" cy="214.0" r="2.1"/>
<circle cx="492.6" cy="214.3" r="2.1"/>
<circle cx="517.3" cy="166.8" r="2.1"/>
<circle cx="484.3" cy="219.9" r="2.1"/>
<circle cx="520.2" cy="176.4" r="2.1"/>
<circle cx="474.0" cy="201.6" r="2.1"/>
<circle cx="518.9" cy="157.7" r="2.1"/>
<circle cx="495.0" cy="226.9" r="2.1"/>
<circle cx="486.5" cy="218.7" r="2.1"/>
<circle cx="514.9" cy="182.1" r="2.1"/>
<circle cx="487.3" cy="218.1" r="2.1"/>
<circle cx="503.6" cy="175.8" r="2.1"/>
<circle cx="484.3" cy="202.1" r="2.1"/>
<circle cx="467.5" cy="204.2" r="2.1"/>
<circle cx="499.7" cy="165.2" r="2.1"/>
<circle cx="496.8" cy="212.1" r="2.1"/>
<circle cx="495.0" cy="216.7" r="2.1"/>
<circle cx="507.7" cy="181.9" r="2.1"/>
<circle cx="480.5" cy="183.3" r="2.1"/>
<circle cx="458.9" cy="162.9" r="2.1"/>
<circle cx="466.3" cy="183.4" r="2.1"/>
<circle cx="482.3" cy="179.0" r="2.1"/>
<circle cx="463.5" cy="194.0" r="2.1"/>
<circle cx="489.7" cy="193.8" r="2.1"/>
<circle cx="491.6" cy="215.4" r="2.1"/>
<circle cx="501.3" cy="193.5" r="2.1"/>
<circle cx="477.1" cy="167.7" r="2.1"/>
<circle cx="503.8" cy="228.9" r="2.1"/>
<circle cx="486.1" cy="197.5" r="2.1"/>
<circle cx="501.1" cy="209.0" r="2.1"/>
<circle cx="507.5" cy="177.6" r="2.1"/>
<circle cx="496.1" cy="219.3" r="2.1"/>
<circle cx="530.5" cy="177.6" r="2.1"/>
<circle cx="518.1" cy="194.1" r="2.1"/>
<circle cx="489.2" cy="173.3" r="2.1"/>
<circle cx="502.7" cy="197.2" r="2.1"/>
<circle cx="506.1" cy="201.9" r="2.1"/>
<circle cx="507.1" cy="218.2" r="2.1"/>
<circle cx="480.1" cy="200.1" r="2.1"/>
<circle cx="495.5" cy="199.9" r="2.1"/>
<circle cx="463.9" cy="204.0" r="2.1"/>
<circle cx="511.9" cy="185.9" r="2.1"/>
<circle cx="486.4" cy="192.1" r="2.1"/>
<circle cx="495.8" cy="186.1" r="2.1"/>
<circle cx="520.9" cy="211.8" r="2.1"/>
<circle cx="499.2" cy="200.5" r="2.1"/>
<circle cx="477.3" cy="162.0" r="2.1"/>
<circle cx="493.5" cy="191.9" r="2.1"/>
<circle cx="504.5" cy="204.2" r="2.1"/>
<circle cx="475.9" cy="198.2" r="2.1"/>
<circle cx="518.3" cy="175.5" r="2.1"/>
<circle cx="508.7" cy="174.7" r="2.1"/>
<circle cx="508.0" cy="183.9" r="2.1"/>
<circle cx="478.6" cy="187.5" r="2.1"/>
<circle cx="475.6" cy="202.0" r="2.1"/>
<circle cx="517.7" cy="186.6" r="2.1"/>
<circle cx="494.7" cy="169.5" r="2.1"/>
<circle cx="488.3" cy="195.8" r="2.1"/>
<circle cx="495.1" cy="211.4" r="2.1"/>
<circle cx="499.0" cy="187.8" r="2.1"/>
<circle cx="492.3" cy="225.4" r="2.1"/>
<circle cx="503.7" cy="176.1" r="2.1"/>
<circle cx="473.1" cy="206.6" r="2.1"/>
<circle cx="525.6" cy="189.6" r="2.1"/>
<circle cx="500.7" cy="176.2" r="2.1"/>
<circle cx="494.1" cy="194.0" r="2.1"/>
<circle cx="486.2" cy="187.9" r="2.1"/>
<circle cx="488.2" cy="156.7" r="2.1"/>
<circle cx="504.7" cy="212.4" r="2.1"/>
<circle cx="463.9" cy="200.8" r="2.1"/>
<circle cx="528.6" cy="190.8" r="2.1"/>
<circle cx="492.2" cy="198.8" r="2.1"/>
<circle cx="475.1" cy="198.5" r="2.1"/>
<circle cx="463.3" cy="188.6" r="2.1"/>
<circle cx="472.2" cy="204.4" r="2.1"/>
<circle cx="494.0" cy="162.2" r="2.1"/>
<circle cx="501.5" cy="218.9" r="2.1"/>
<circle cx="500.2" cy="189.2" r="2.1"/>
<circle cx="486.0" cy="185.9" r="2.1"/>
<circle cx="467.0" cy="190.4" r="2.1"/>
<circle cx="483.2" cy="206.6" r="2.1"/>
<circle cx="473.0" cy="204.6" r="2.1"/>
<circle cx="493.4" cy="225.7" r="2.1"/>
<circle cx="490.5" cy="202.2" r="2.1"/>
<circle cx="483.1" cy="166.6" r="2.1"/>
<circle cx="489.6" cy="229.9" r="2.1"/>
<circle cx="498.7" cy="193.4" r="2.1"/>
<circle cx="476.0" cy="223.4" r="2.1"/>
<circle cx="511.8" cy="224.5" r="2.1"/>
<circle cx="473.5" cy="187.9" r="2.1"/>
<circle cx="500.7" cy="188.8" r="2.1"/>
<circle cx="456.9" cy="168.7" r="2.1"/>
<circle cx="496.4" cy="203.3" r="2.1"/>
<circle cx="500.5" cy="164.2" r="2.1"/>
<circle cx="473.4" cy="212.2" r="2.1"/>
<circle cx="487.4" cy="209.7" r="2.1"/>
<circle cx="479.8" cy="194.9" r="2.1"/>
<circle cx="514.1" cy="198.4" r="2.1"/>
<circle cx="485.7" cy="189.0" r="2.1"/>
<circle cx="487.7" cy="189.6" r="2.1"/>
<circle cx="479.4" cy="188.6" r="2.1"/>
<circle cx="512.9" cy="215.2" r="2.1"/>
<circle cx="491.3" cy="173.6" r="2.1"/>
<circle cx="484.1" cy="202.3" r="2.1"/>
<circle cx="512.3" cy="210.6" r="2.1"/>
<circle cx="484.3" cy="208.2" r="2.1"/>
<circle cx="494.1" cy="178.2" r="2.1"/>
<circle cx="462.7" cy="188.0" r="2.1"/>
<circle cx="478.7" cy="175.4" r="2.1"/>
<circle cx="514.3" cy="187.2" r="2.1"/>
<circle cx="500.2" cy="202.3" r="2.1"/>
<circle cx="491.8" cy="186.5" r="2.1"/>
<circle cx="475.1" cy="197.5" r="2.1"/>
<circle cx="494.3" cy="197.5" r="2.1"/>
<circle cx="494.6" cy="212.7" r="2.1"/>
<circle cx="497.1" cy="209.1" r="2.1"/>
<circle cx="490.8" cy="209.7" r="2.1"/>
<circle cx="484.0" cy="215.3" r="2.1"/>
<circle cx="510.8" cy="192.0" r="2.1"/>
<circle cx="487.7" cy="217.5" r="2.1"/>
<circle cx="494.0" cy="201.2" r="2.1"/>
<circle cx="495.3" cy="202.8" r="2.1"/>
<circle cx="492.3" cy="224.7" r="2.1"/>
<circle cx="487.2" cy="202.0" r="2.1"/>
<circle cx="516.4" cy="170.4" r="2.1"/>
<circle cx="490.3" cy="187.8" r="2.1"/>
<circle cx="511.8" cy="203.1" r="2.1"/>
<circle cx="505.9" cy="200.6" r="2.1"/>
<circle cx="504.5" cy="206.6" r="2.1"/>
<circle cx="483.3" cy="190.1" r="2.1"/>
<circle cx="505.5" cy="189.4" r="2.1"/>
<circle cx="517.1" cy="163.3" r="2.1"/>
<circle cx="506.4" cy="216.7" r="2.1"/>
<circle cx="480.5" cy="216.4" r="2.1"/>
<circle cx="467.1" cy="157.9" r="2.1"/>
<circle cx="500.8" cy="183.9" r="2.1"/>
<circle cx="507.8" cy="185.6" r="2.1"/>
<circle cx="489.2" cy="196.7" r="2.1"/>
<circle cx="499.7" cy="173.9" r="2.1"/>
<circle cx="490.8" cy="214.8" r="2.1"/>
<circle cx="498.6" cy="194.7" r="2.1"/>
<circle cx="493.1" cy="188.2" r="2.1"/>
<circle cx="520.0" cy="162.2" r="2.1"/>
<circle cx="506.4" cy="217.3" r="2.1"/>
<circle cx="486.4" cy="203.2" r="2.1"/>
<circle cx="474.2" cy="203.9" r="2.1"/>
<circle cx="516.1" cy="216.3" r="2.1"/>
<circle cx="462.6" cy="177.0" r="2.1"/>
<circle cx="469.4" cy="186.6" r="2.1"/>
<circle cx="490.7" cy="211.3" r="2.1"/>
<circle cx="520.3" cy="168.0" r="2.1"/>
<circle cx="511.2" cy="209.8" r="2.1"/>
<circle cx="500.2" cy="206.0" r="2.1"/>
<circle cx="500.8" cy="168.7" r="2.1"/>
<circle cx="520.2" cy="184.3" r="2.1"/>
<circle cx="483.5" cy="160.6" r="2.1"/>
<circle cx="477.6" cy="192.4" r="2.1"/>
<circle cx="495.5" cy="216.3" r="2.1"/>
<circle cx="497.0" cy="210.7" r="2.1"/>
<circle cx="472.2" cy="196.8" r="2.1"/>
<circle cx="463.7" cy="168.4" r="2.1"/>
<circle cx="478.8" cy="178.6" r="2.1"/>
<circle cx="498.2" cy="204.1" r="2.1"/>
<circle cx="478.9" cy="196.4" r="2.1"/>
<circle cx="481.1" cy="199.0" r="2.1"/>
<circle cx="465.6" cy="171.8" r="2.1"/>
<circle cx="507.9" cy="210.2" r="2.1"/>
<circle cx="492.1" cy="164.8" r="2.1"/>
<circle cx="499.4" cy="207.9" r="2.1"/>
<circle cx="485.8" cy="196.4" r="2.1"/>
<circle cx="509.5" cy="183.4" r="2.1"/>
<circle cx="487.0" cy="181.8" r="2.1"/>
<circle cx="508.2" cy="225.4" r="2.1"/>
<circle cx="519.0" cy="215.3" r="2.1"/>
<circle cx="469.7" cy="202.5" r="2.1"/>
<circle cx="490.1" cy="216.5" r="2.1"/>
<circle cx="488.1" cy="188.3" r="2.1"/>
<circle cx="482.6" cy="197.4" r="2.1"/>
<circle cx="494.9" cy="182.9" r="2.1"/>
<circle cx="503.8" cy="182.7" r="2.1"/>
<circle cx="493.3" cy="190.7" r="2.1"/>
<circle cx="497.7" cy="220.1" r="2.1"/>
<circle cx="488.3" cy="182.9" r="2.1"/>
<circle cx="496.9" cy="187.6" r="2.1"/>
<circle cx="497.0" cy="196.5" r="2.1"/>
<circle cx="496.4" cy="225.0" r="2.1"/>
<circle cx="503.4" cy="177.7" r="2.1"/>
<circle cx="518.6" cy="194.1" r="2.1"/>
<circle cx="498.4" cy="190.3" r="2.1"/>
<circle cx="482.2" cy="200.9" r="2.1"/>
<circle cx="474.6" cy="186.6" r="2.1"/>
<circle cx="491.4" cy="190.1" r="2.1"/>
<circle cx="494.5" cy="177.2" r="2.1"/>
<circle cx="489.4" cy="174.5" r="2.1"/>
<circle cx="490.1" cy="212.0" r="2.1"/>
<circle cx="473.5" cy="193.1" r="2.1"/>
<circle cx="485.5" cy="213.6" r="2.1"/>
<circle cx="478.4" cy="217.0" r="2.1"/>
<circle cx="493.5" cy="213.2" r="2.1"/>
<circle cx="514.6" cy="165.0" r="2.1"/>
<circle cx="510.1" cy="219.6" r="2.1"/>
<circle cx="494.5" cy="214.8" r="2.1"/>
<circle cx="520.7" cy="202.2" r="2.1"/>
<circle cx="499.6" cy="185.3" r="2.1"/>
<circle cx="501.8" cy="191.4" r="2.1"/>
<circle cx="473.6" cy="219.5" r="2.1"/>
<circle cx="483.2" cy="161.3" r="2.1"/>
<circle cx="482.5" cy="223.2" r="2.1"/>
<circle cx="479.0" cy="204.4" r="2.1"/>
<circle cx="479.6" cy="227.3" r="2.1"/>
<circle cx="475.2" cy="174.3" r="2.1"/>
<circle cx="504.1" cy="182.0" r="2.1"/>
<circle cx="470.8" cy="194.7" r="2.1"/>
<circle cx="499.3" cy="171.9" r="2.1"/>
<circle cx="473.5" cy="172.6" r="2.1"/>
<circle cx="500.0" cy="214.9" r="2.1"/>
<circle cx="496.7" cy="183.8" r="2.1"/>
<circle cx="517.5" cy="200.2" r="2.1"/>
<circle cx="499.7" cy="192.9" r="2.1"/>
<circle cx="476.6" cy="196.8" r="2.1"/>
<circle cx="518.0" cy="196.2" r="2.1"/>
<circle cx="506.8" cy="204.5" r="2.1"/>
<circle cx="498.4" cy="211.7" r="2.1"/>
<circle cx="474.0" cy="188.7" r="2.1"/>
<circle cx="511.5" cy="187.4" r="2.1"/>
<circle cx="500.1" cy="186.9" r="2.1"/>
<circle cx="490.8" cy="178.8" r="2.1"/>
<circle cx="487.8" cy="203.0" r="2.1"/>
<circle cx="484.3" cy="220.0" r="2.1"/>
<circle cx="508.2" cy="223.3" r="2.1"/>
<circle cx="512.9" cy="173.7" r="2.1"/>
<circle cx="477.5" cy="185.2" r="2.1"/>
<circle cx="491.1" cy="194.1" r="2.1"/>
<circle cx="473.5" cy="203.3" r="2.1"/>
<circle cx="493.8" cy="223.1" r="2.1"/>
<circle cx="477.9" cy="193.2" r="2.1"/>
<circle cx="513.4" cy="175.6" r="2.1"/>
<circle cx="476.4" cy="223.3" r="2.1"/>
<circle cx="502.7" cy="220.4" r="2.1"/>
<circle cx="490.5" cy="199.5" r="2.1"/>
<circle cx="481.2" cy="191.6" r="2.1"/>
<circle cx="474.5" cy="172.6" r="2.1"/>
<circle cx="527.8" cy="190.2" r="2.1"/>
<circle cx="472.9" cy="167.3" r="2.1"/>
<circle cx="495.6" cy="193.2" r="2.1"/>
<circle cx="467.3" cy="195.9" r="2.1"/>
<circle cx="480.5" cy="206.3" r="2.1"/>
<circle cx="505.1" cy="179.7" r="2.1"/>
<circle cx="502.6" cy="196.4" r="2.1"/>
<circle cx="492.4" cy="202.6" r="2.1"/>
<circle cx="510.9" cy="224.9" r="2.1"/>
<circle cx="517.7" cy="182.1" r="2.1"/>
<circle cx="470.7" cy="214.6" r="2.1"/>
<circle cx="516.0" cy="216.8" r="2.1"/>
<circle cx="484.7" cy="194.1" r="2.1"/>
<circle cx="485.1" cy="230.8" r="2.1"/>
<circle cx="495.0" cy="177.7" r="2.1"/>
<circle cx="500.2" cy="208.9" r="2.1"/>
<circle cx="480.9" cy="191.5" r="2.1"/>
<circle cx="476.0" cy="200.2" r="2.1"/>
<circle cx="487.4" cy="207.6" r="2.1"/>
<circle cx="495.9" cy="165.9" r="2.1"/>
<circle cx="507.2" cy="174.4" r="2.1"/>
<circle cx="527.7" cy="162.2" r="2.1"/>
<circle cx="481.8" cy="206.1" r="2.1"/>
<circle cx="469.7" cy="196.5" r="2.1"/>
<circle cx="477.9" cy="217.0" r="2.1"/>
<circle cx="482.0" cy="188.8" r="2.1"/>
<circle cx="515.2" cy="207.8" r="2.1"/>
<circle cx="515.5" cy="164.7" r="2.1"/>
<circle cx="511.9" cy="184.2" r="2.1"/>
<circle cx="482.7" cy="173.0" r="2.1"/>
<circle cx="479.5" cy="166.5" r="2.1"/>
<circle cx="472.2" cy="193.6" r="2.1"/>
<circle cx="497.8" cy="187.5" r="2.1"/>
<circle cx="487.8" cy="216.4" r="2.1"/>
<circle cx="476.1" cy="191.3" r="2.1"/>
<circle cx="508.6" cy="222.7" r="2.1"/>
<circle cx="524.7" cy="174.4" r="2.1"/>
<circle cx="489.9" cy="224.6" r="2.1"/>
<circle cx="490.7" cy="201.1" r="2.1"/>
<circle cx="512.6" cy="172.1" r="2.1"/>
<circle cx="495.5" cy="174.6" r="2.1"/>
<circle cx="478.5" cy="216.8" r="2.1"/>
<circle cx="481.0" cy="204.5" r="2.1"/>
<circle cx="511.3" cy="171.6" r="2.1"/>
<circle cx="509.9" cy="168.5" r="2.1"/>
<circle cx="487.2" cy="182.9" r="2.1"/>
<circle cx="492.2" cy="173.5" r="2.1"/>
<circle cx="490.4" cy="198.2" r="2.1"/>
<circle cx="456.5" cy="180.1" r="2.1"/>
<circle cx="465.9" cy="178.7" r="2.1"/>
<circle cx="459.3" cy="173.4" r="2.1"/>
<circle cx="463.3" cy="183.8" r="2.1"/>
<circle cx="457.8" cy="174.2" r="2.1"/>
<circle cx="464.3" cy="164.0" r="2.1"/>
<circle cx="465.6" cy="176.8" r="2.1"/>
<circle cx="455.2" cy="160.1" r="2.1"/>
<circle cx="464.3" cy="162.5" r="2.1"/>
<circle cx="456.3" cy="176.4" r="2.1"/>
<circle cx="462.7" cy="183.2" r="2.1"/>
<circle cx="456.8" cy="174.5" r="2.1"/>
<circle cx="464.7" cy="167.3" r="2.1"/>
<circle cx="464.3" cy="160.1" r="2.1"/>
<circle cx="457.6" cy="170.5" r="2.1"/>
<circle cx="463.3" cy="178.9" r="2.1"/>
<circle cx="465.7" cy="173.1" r="2.1"/>
<circle cx="455.2" cy="166.8" r="2.1"/>
<circle cx="464.7" cy="164.6" r="2.1"/>
<circle cx="463.1" cy="169.6" r="2.1"/>
<circle cx="455.6" cy="170.8" r="2.1"/>
<circle cx="460.1" cy="176.0" r="2.1"/>
<circle cx="456.1" cy="172.7" r="2.1"/>
<circle cx="458.7" cy="185.6" r="2.1"/>
<circle cx="465.4" cy="186.8" r="2.1"/>
<circle cx="460.9" cy="181.8" r="2.1"/>
<circle cx="469.1" cy="24.3" r="2.1"/>
<circle cx="490.5" cy="24.3" r="2.1"/>
<circle cx="445.5" cy="61.7" r="2.1"/>
<circle cx="462.3" cy="61.0" r="2.1"/>
<circle cx="481.4" cy="56.3" r="2.1"/>
<circle cx="476.8" cy="69.4" r="2.1"/>
<circle cx="492.9" cy="70.1" r="2.1"/>
<circle cx="519.7" cy="75.3" r="2.1"/>
<circle cx="533.5" cy="81.6" r="2.1"/>
<circle cx="502.7" cy="83.0" r="2.1"/>
<circle cx="508.8" cy="83.9" r="2.1"/>
<circle cx="486.8" cy="90.0" r="2.1"/>
<circle cx="486.1" cy="96.8" r="2.1"/>
<circle cx="490.5" cy="95.1" r="2.1"/>
<circle cx="492.4" cy="97.9" r="2.1"/>
<circle cx="539.6" cy="99.1" r="2.1"/>
<circle cx="458.6" cy="102.0" r="2.1"/>
<circle cx="457.7" cy="106.8" r="2.1"/>
<circle cx="478.3" cy="100.6" r="2.1"/>
<circle cx="475.8" cy="105.2" r="2.1"/>
<circle cx="477.6" cy="105.2" r="2.1"/>
<circle cx="486.8" cy="107.6" r="2.1"/>
<circle cx="505.1" cy="103.7" r="2.1"/>
<circle cx="509.0" cy="106.8" r="2.1"/>
<circle cx="508.7" cy="112.9" r="2.1"/>
<circle cx="467.8" cy="111.9" r="2.1"/>
<circle cx="479.0" cy="110.5" r="2.1"/>
<circle cx="481.4" cy="114.2" r="2.1"/>
<circle cx="480.9" cy="116.3" r="2.1"/>
<circle cx="482.9" cy="119.5" r="2.1"/>
<circle cx="470.7" cy="119.7" r="2.1"/>
<circle cx="473.7" cy="118.1" r="2.1"/>
<circle cx="489.0" cy="118.2" r="2.1"/>
<circle cx="494.5" cy="116.7" r="2.1"/>
<circle cx="484.5" cy="123.6" r="2.1"/>
<circle cx="493.6" cy="126.7" r="2.1"/>
<circle cx="468.6" cy="127.5" r="2.1"/>
<circle cx="482.9" cy="129.7" r="2.1"/>
<circle cx="485.0" cy="128.7" r="2.1"/>
<circle cx="501.3" cy="126.7" r="2.1"/>
<circle cx="505.4" cy="123.1" r="2.1"/>
<circle cx="502.8" cy="128.2" r="2.1"/>
<circle cx="461.0" cy="134.3" r="2.1"/>
<circle cx="466.1" cy="132.6" r="2.1"/>
<circle cx="487.0" cy="132.3" r="2.1"/>
<circle cx="497.2" cy="132.6" r="2.1"/>
<circle cx="508.0" cy="132.3" r="2.1"/>
<circle cx="540.3" cy="110.0" r="2.1"/>
<circle cx="547.1" cy="120.5" r="2.1"/>
<circle cx="520.3" cy="109.0" r="2.1"/>
<circle cx="512.0" cy="108.8" r="2.1"/>
<circle cx="512.0" cy="115.1" r="2.1"/>
<circle cx="513.7" cy="120.5" r="2.1"/>
<circle cx="529.5" cy="121.9" r="2.1"/>
<circle cx="534.1" cy="124.9" r="2.1"/>
<circle cx="513.7" cy="128.0" r="2.1"/>
<circle cx="517.3" cy="128.9" r="2.1"/>
<circle cx="510.6" cy="133.8" r="2.1"/>
<circle cx="463.3" cy="135.6" r="2.1"/>
<circle cx="462.3" cy="137.7" r="2.1"/>
<circle cx="468.9" cy="137.7" r="2.1"/>
<circle cx="471.0" cy="139.2" r="2.1"/>
<circle cx="477.6" cy="136.6" r="2.1"/>
<circle cx="483.0" cy="137.9" r="2.1"/>
<circle cx="486.8" cy="141.8" r="2.1"/>
<circle cx="484.3" cy="130.5" r="2.1"/>
<circle cx="489.2" cy="135.6" r="2.1"/>
<circle cx="453.6" cy="142.8" r="2.1"/>
<circle cx="456.2" cy="141.2" r="2.1"/>
<circle cx="459.2" cy="143.3" r="2.1"/>
<circle cx="450.8" cy="147.2" r="2.1"/>
<circle cx="466.9" cy="144.3" r="2.1"/>
<circle cx="469.5" cy="144.3" r="2.1"/>
<circle cx="463.8" cy="147.9" r="2.1"/>
<circle cx="474.6" cy="143.8" r="2.1"/>
<circle cx="477.6" cy="141.8" r="2.1"/>
<circle cx="481.2" cy="145.5" r="2.1"/>
<circle cx="473.0" cy="149.4" r="2.1"/>
<circle cx="458.5" cy="151.7" r="2.1"/>
<circle cx="465.4" cy="152.5" r="2.1"/>
<circle cx="464.9" cy="155.0" r="2.1"/>
<circle cx="478.1" cy="151.0" r="2.1"/>
<circle cx="481.7" cy="151.5" r="2.1"/>
<circle cx="489.2" cy="148.2" r="2.1"/>
<circle cx="470.0" cy="154.5" r="2.1"/>
<circle cx="473.0" cy="155.0" r="2.1"/>
<circle cx="485.3" cy="152.5" r="2.1"/>
<circle cx="488.4" cy="154.0" r="2.1"/>
<circle cx="444.9" cy="163.9" r="2.1"/>
<circle cx="452.6" cy="160.7" r="2.1"/>
<circle cx="459.2" cy="160.1" r="2.1"/>
<circle cx="565.7" cy="146.4" r="2.1"/>
<circle cx="565.7" cy="151.8" r="2.1"/>
<circle cx="522.7" cy="141.1" r="2.1"/>
<circle cx="531.1" cy="148.7" r="2.1"/>
<circle cx="537.3" cy="157.1" r="2.1"/>
<circle cx="548.7" cy="161.8" r="2.1"/>
<circle cx="536.1" cy="164.5" r="2.1"/>
<circle cx="547.0" cy="168.0" r="2.1"/>
<circle cx="521.8" cy="151.0" r="2.1"/>
<circle cx="513.4" cy="146.9" r="2.1"/>
<circle cx="495.3" cy="148.7" r="2.1"/>
<circle cx="500.5" cy="152.8" r="2.1"/>
<circle cx="505.2" cy="141.7" r="2.1"/>
<circle cx="508.1" cy="137.9" r="2.1"/>
<circle cx="497.0" cy="133.5" r="2.1"/>
<circle cx="495.3" cy="141.1" r="2.1"/>
<circle cx="432.5" cy="174.0" r="2.1"/>
<circle cx="440.8" cy="175.6" r="2.1"/>
<circle cx="432.5" cy="182.6" r="2.1"/>
<circle cx="446.3" cy="183.8" r="2.1"/>
<circle cx="439.7" cy="187.9" r="2.1"/>
<circle cx="442.3" cy="188.9" r="2.1"/>
<circle cx="443.8" cy="192.4" r="2.1"/>
<circle cx="451.5" cy="194.9" r="2.1"/>
<circle cx="455.9" cy="194.0" r="2.1"/>
<circle cx="459.2" cy="191.5" r="2.1"/>
<circle cx="434.0" cy="198.5" r="2.1"/>
<circle cx="426.3" cy="202.9" r="2.1"/>
<circle cx="430.9" cy="203.8" r="2.1"/>
<circle cx="438.0" cy="205.3" r="2.1"/>
<circle cx="455.3" cy="202.9" r="2.1"/>
<circle cx="438.6" cy="214.5" r="2.1"/>
<circle cx="448.5" cy="213.0" r="2.1"/>
<circle cx="453.7" cy="215.2" r="2.1"/>
<circle cx="447.2" cy="178.4" r="2.1"/>
<circle cx="448.9" cy="174.9" r="2.1"/>
<circle cx="452.0" cy="173.1" r="2.1"/>
<circle cx="452.8" cy="167.9" r="2.1"/>
<circle cx="451.5" cy="184.5" r="2.1"/>
<circle cx="454.6" cy="185.0" r="2.1"/>
<circle cx="461.2" cy="201.2" r="2.1"/>
<circle cx="462.9" cy="202.0" r="2.1"/>
<circle cx="464.2" cy="205.5" r="2.1"/>
<circle cx="464.7" cy="209.9" r="2.1"/>
<circle cx="459.9" cy="207.7" r="2.1"/>
<circle cx="458.5" cy="210.8" r="2.1"/>
<circle cx="460.3" cy="213.0" r="2.1"/>
<circle cx="462.9" cy="214.7" r="2.1"/>
<circle cx="467.3" cy="197.7" r="2.1"/>
<circle cx="468.6" cy="199.9" r="2.1"/>
<circle cx="467.7" cy="219.6" r="2.1"/>
<circle cx="464.7" cy="223.1" r="2.1"/>
<circle cx="458.5" cy="227.4" r="2.1"/>
<circle cx="464.2" cy="228.3" r="2.1"/>
<circle cx="469.0" cy="227.4" r="2.1"/>
<circle cx="472.6" cy="227.4" r="2.1"/>
<circle cx="543.5" cy="173.3" r="2.1"/>
<circle cx="545.2" cy="173.3" r="2.1"/>
<circle cx="544.3" cy="177.3" r="2.1"/>
<circle cx="546.1" cy="178.6" r="2.1"/>
<circle cx="548.7" cy="181.6" r="2.1"/>
<circle cx="554.2" cy="186.9" r="2.1"/>
<circle cx="537.3" cy="176.8" r="2.1"/>
<circle cx="534.3" cy="186.0" r="2.1"/>
<circle cx="538.2" cy="186.0" r="2.1"/>
<circle cx="541.7" cy="188.5" r="2.1"/>
<circle cx="542.6" cy="193.0" r="2.1"/>
<circle cx="533.4" cy="192.2" r="2.1"/>
<circle cx="546.5" cy="200.0" r="2.1"/>
<circle cx="530.3" cy="202.2" r="2.1"/>
<circle cx="533.0" cy="200.9" r="2.1"/>
<circle cx="536.5" cy="200.0" r="2.1"/>
<circle cx="546.5" cy="215.1" r="2.1"/>
<circle cx="528.1" cy="221.5" r="2.1"/>
<circle cx="541.1" cy="221.2" r="2.1"/>
<circle cx="537.3" cy="228.2" r="2.1"/>
<circle cx="524.2" cy="225.9" r="2.1"/>
<circle cx="520.3" cy="229.8" r="2.1"/>
<circle cx="524.2" cy="230.5" r="2.1"/>
<circle cx="518.1" cy="233.8" r="2.1"/>
<circle cx="527.3" cy="210.5" r="2.1"/>
<circle cx="524.2" cy="215.1" r="2.1"/>
<circle cx="518.1" cy="215.1" r="2.1"/>
<circle cx="528.1" cy="176.8" r="2.1"/>
<circle cx="528.1" cy="181.6" r="2.1"/>
<circle cx="527.3" cy="186.0" r="2.1"/>
<circle cx="527.3" cy="189.1" r="2.1"/>
<circle cx="533.4" cy="168.5" r="2.1"/>
<circle cx="534.7" cy="172.9" r="2.1"/>
<circle cx="533.0" cy="176.4" r="2.1"/>
<circle cx="533.8" cy="180.8" r="2.1"/>
<circle cx="536.0" cy="165.4" r="2.1"/>
<circle cx="463.6" cy="229.8" r="2.1"/>
<circle cx="465.0" cy="228.7" r="2.1"/>
<circle cx="471.5" cy="229.4" r="2.1"/>
<circle cx="469.8" cy="233.8" r="2.1"/>
<circle cx="464.7" cy="238.8" r="2.1"/>
<circle cx="460.0" cy="241.2" r="2.1"/>
<circle cx="463.2" cy="247.8" r="2.1"/>
<circle cx="464.1" cy="247.1" r="2.1"/>
<circle cx="450.8" cy="252.0" r="2.1"/>
<circle cx="475.2" cy="238.1" r="2.1"/>
<circle cx="477.7" cy="243.0" r="2.1"/>
<circle cx="482.0" cy="225.4" r="2.1"/>
<circle cx="484.5" cy="231.3" r="2.1"/>
<circle cx="482.0" cy="235.1" r="2.1"/>
<circle cx="487.7" cy="235.1" r="2.1"/>
<circle cx="489.0" cy="236.0" r="2.1"/>
<circle cx="492.1" cy="236.0" r="2.1"/>
<circle cx="482.0" cy="240.6" r="2.1"/>
<circle cx="486.0" cy="239.5" r="2.1"/>
<circle cx="487.7" cy="241.2" r="2.1"/>
<circle cx="491.7" cy="241.6" r="2.1"/>
<circle cx="491.2" cy="245.0" r="2.1"/>
<circle cx="493.4" cy="240.8" r="2.1"/>
<circle cx="496.1" cy="240.3" r="2.1"/>
<circle cx="497.8" cy="241.6" r="2.1"/>
<circle cx="482.9" cy="247.3" r="2.1"/>
<circle cx="477.5" cy="253.5" r="2.1"/>
<circle cx="482.0" cy="251.7" r="2.1"/>
<circle cx="486.0" cy="254.2" r="2.1"/>
<circle cx="493.6" cy="255.0" r="2.1"/>
<circle cx="490.4" cy="258.7" r="2.1"/>
<circle cx="489.5" cy="259.6" r="2.1"/>
<circle cx="494.3" cy="260.9" r="2.1"/>
<circle cx="487.3" cy="263.5" r="2.1"/>
<circle cx="498.2" cy="264.9" r="2.1"/>
<circle cx="465.4" cy="264.2" r="2.1"/>
<circle cx="452.3" cy="270.3" r="2.1"/>
<circle cx="495.9" cy="269.7" r="2.1"/>
<circle cx="480.3" cy="278.0" r="2.1"/>
<circle cx="482.9" cy="277.4" r="2.1"/>
<circle cx="493.6" cy="276.2" r="2.1"/>
<circle cx="492.1" cy="280.2" r="2.1"/>
<circle cx="499.4" cy="280.9" r="2.1"/>
<circle cx="493.0" cy="287.2" r="2.1"/>
<circle cx="486.0" cy="225.4" r="2.1"/>
<circle cx="489.0" cy="227.2" r="2.1"/>
<circle cx="490.0" cy="227.6" r="2.1"/>
<circle cx="496.0" cy="226.8" r="2.1"/>
<circle cx="498.2" cy="227.6" r="2.1"/>
<circle cx="497.0" cy="234.2" r="2.1"/>
<circle cx="498.7" cy="236.4" r="2.1"/>
<circle cx="499.6" cy="246.5" r="2.1"/>
<circle cx="537.2" cy="228.3" r="2.1"/>
<circle cx="544.2" cy="238.1" r="2.1"/>
<circle cx="533.4" cy="242.6" r="2.1"/>
<circle cx="532.8" cy="247.5" r="2.1"/>
<circle cx="534.9" cy="254.2" r="2.1"/>
<circle cx="539.6" cy="258.0" r="2.1"/>
<circle cx="537.2" cy="261.1" r="2.1"/>
<circle cx="540.4" cy="271.0" r="2.1"/>
<circle cx="544.3" cy="270.4" r="2.1"/>
<circle cx="523.5" cy="271.8" r="2.1"/>
<circle cx="514.9" cy="268.0" r="2.1"/>
<circle cx="506.7" cy="264.1" r="2.1"/>
<circle cx="496.0" cy="269.4" r="2.1"/>
<circle cx="504.3" cy="272.4" r="2.1"/>
<circle cx="507.3" cy="274.8" r="2.1"/>
<circle cx="513.0" cy="282.4" r="2.1"/>
<circle cx="509.0" cy="285.5" r="2.1"/>
<circle cx="518.1" cy="245.9" r="2.1"/>
<circle cx="522.7" cy="241.9" r="2.1"/>
<circle cx="526.8" cy="237.3" r="2.1"/>
<circle cx="518.2" cy="234.3" r="2.1"/>
<circle cx="520.6" cy="229.7" r="2.1"/>
<circle cx="524.2" cy="226.0" r="2.1"/>
<circle cx="514.5" cy="225.0" r="2.1"/>
<circle cx="513.5" cy="237.1" r="2.1"/>
<circle cx="513.5" cy="239.2" r="2.1"/>
<circle cx="510.7" cy="242.1" r="2.1"/>
<circle cx="509.7" cy="244.5" r="2.1"/>
<circle cx="510.7" cy="246.8" r="2.1"/>
<circle cx="500.7" cy="246.8" r="2.1"/>
<circle cx="501.2" cy="244.9" r="2.1"/>
<circle cx="498.8" cy="242.6" r="2.1"/>
<circle cx="504.5" cy="240.2" r="2.1"/>
<circle cx="460.1" cy="291.7" r="2.1"/>
<circle cx="480.6" cy="312.4" r="2.1"/>
<circle cx="463.8" cy="348.3" r="2.1"/>
<circle cx="515.7" cy="371.1" r="2.1"/></g>
<g fill="#00BA38"><circle cx="500.9" cy="678.1" r="2.1"/>
<circle cx="452.5" cy="659.2" r="2.1"/>
<circle cx="494.0" cy="651.7" r="2.1"/>
<circle cx="515.5" cy="676.6" r="2.1"/>
<circle cx="506.8" cy="676.1" r="2.1"/>
<circle cx="512.7" cy="668.5" r="2.1"/>
<circle cx="504.7" cy="653.1" r="2.1"/>
<circle cx="507.1" cy="685.0" r="2.1"/>
<circle cx="508.3" cy="649.8" r="2.1"/>
<circle cx="468.9" cy="673.1" r="2.1"/>
<circle cx="519.7" cy="685.0" r="2.1"/>
<circle cx="492.4" cy="672.0" r="2.1"/>
<circle cx="528.8" cy="670.8" r="2.1"/>
<circle cx="474.6" cy="657.6" r="2.1"/>
<circle cx="485.7" cy="680.3" r="2.1"/>
<circle cx="453.4" cy="687.7" r="2.1"/>
<circle cx="514.5" cy="670.6" r="2.1"/>
<circle cx="495.7" cy="643.9" r="2.1"/>
<circle cx="496.1" cy="675.3" r="2.1"/>
<circle cx="447.9" cy="680.4" r="2.1"/>
<circle cx="507.8" cy="663.9" r="2.1"/>
<circle cx="516.7" cy="685.4" r="2.1"/>
<circle cx="504.3" cy="650.4" r="2.1"/>
<circle cx="484.3" cy="646.2" r="2.1"/>
<circle cx="498.5" cy="661.3" r="2.1"/>
<circle cx="520.4" cy="683.7" r="2.1"/>
<circle cx="478.7" cy="661.7" r="2.1"/>
<circle cx="513.0" cy="675.5" r="2.1"/>
<circle cx="508.2" cy="665.1" r="2.1"/>
<circle cx="485.1" cy="619.5" r="2.1"/>
<circle cx="470.9" cy="683.1" r="2.1"/>
<circle cx="473.0" cy="687.0" r="2.1"/>
<circle cx="481.4" cy="659.0" r="2.1"/>
<circle cx="489.6" cy="684.4" r="2.1"/>
<circle cx="472.1" cy="681.3" r="2.1"/>
<circle cx="509.2" cy="681.5" r="2.1"/>
<circle cx="498.2" cy="677.0" r="2.1"/>
<circle cx="474.2" cy="659.1" r="2.1"/>
<circle cx="488.8" cy="685.6" r="2.1"/>
<circle cx="476.0" cy="682.7" r="2.1"/>
<circle cx="495.2" cy="673.0" r="2.1"/>
<circle cx="485.1" cy="673.2" r="2.1"/>
<circle cx="500.5" cy="679.5" r="2.1"/>
<circle cx="474.3" cy="639.3" r="2.1"/>
<circle cx="491.9" cy="675.6" r="2.1"/>
<circle cx="466.5" cy="666.0" r="2.1"/>
<circle cx="518.0" cy="681.2" r="2.1"/>
<circle cx="495.0" cy="661.7" r="2.1"/>
<circle cx="473.2" cy="686.2" r="2.1"/>
<circle cx="476.3" cy="688.3" r="2.1"/>
<circle cx="479.3" cy="625.4" r="2.1"/>
<circle cx="485.8" cy="686.4" r="2.1"/>
<circle cx="536.3" cy="674.2" r="2.1"/>
<circle cx="484.2" cy="669.5" r="2.1"/>
<circle cx="511.3" cy="630.3" r="2.1"/>
<circle cx="521.0" cy="653.4" r="2.1"/>
<circle cx="507.6" cy="677.4" r="2.1"/>
<circle cx="489.6" cy="659.6" r="2.1"/>
<circle cx="505.0" cy="682.4" r="2.1"/>
<circle cx="499.4" cy="650.1" r="2.1"/>
<circle cx="506.4" cy="631.2" r="2.1"/>
<circle cx="500.6" cy="622.9" r="2.1"/>
<circle cx="498.9" cy="672.0" r="2.1"/>
<circle cx="515.1" cy="648.1" r="2.1"/>
<circle cx="507.4" cy="676.4" r="2.1"/>
<circle cx="477.6" cy="679.2" r="2.1"/>
<circle cx="496.6" cy="685.5" r="2.1"/>
<circle cx="490.1" cy="668.3" r="2.1"/>
<circle cx="479.9" cy="657.7" r="2.1"/>
<circle cx="462.2" cy="660.6" r="2.1"/>
<circle cx="494.0" cy="676.6" r="2.1"/>
<circle cx="493.8" cy="683.1" r="2.1"/>
<circle cx="461.3" cy="650.0" r="2.1"/>
<circle cx="456.6" cy="684.6" r="2.1"/>
<circle cx="486.6" cy="673.5" r="2.1"/>
<circle cx="518.9" cy="669.2" r="2.1"/>
<circle cx="485.7" cy="621.4" r="2.1"/>
<circle cx="500.3" cy="668.7" r="2.1"/>
<circle cx="498.1" cy="673.9" r="2.1"/>
<circle cx="479.5" cy="687.8" r="2.1"/>
<circle cx="478.8" cy="642.1" r="2.1"/>
<circle cx="487.8" cy="671.4" r="2.1"/>
<circle cx="503.0" cy="665.7" r="2.1"/>
<circle cx="470.4" cy="659.7" r="2.1"/>
<circle cx="482.9" cy="686.1" r="2.1"/>
<circle cx="506.2" cy="644.4" r="2.1"/>
<circle cx="509.6" cy="660.8" r="2.1"/>
<circle cx="527.2" cy="663.2" r="2.1"/>
<circle cx="491.2" cy="644.0" r="2.1"/>
<circle cx="490.9" cy="669.2" r="2.1"/>
<circle cx="474.6" cy="684.3" r="2.1"/>
<circle cx="458.6" cy="684.9" r="2.1"/>
<circle cx="513.3" cy="654.1" r="2.1"/>
<circle cx="506.1" cy="688.2" r="2.1"/>
<circle cx="483.8" cy="681.4" r="2.1"/>
<circle cx="502.7" cy="649.9" r="2.1"/>
<circle cx="496.0" cy="683.1" r="2.1"/>
<circle cx="510.2" cy="667.2" r="2.1"/>
<circle cx="505.1" cy="643.0" r="2.1"/>
<circle cx="509.2" cy="670.6" r="2.1"/>
<circle cx="471.2" cy="656.4" r="2.1"/>
<circle cx="524.5" cy="656.8" r="2.1"/>
<circle cx="508.0" cy="676.1" r="2.1"/>
<circle cx="492.7" cy="645.3" r="2.1"/>
<circle cx="495.3" cy="675.7" r="2.1"/>
<circle cx="513.3" cy="663.9" r="2.1"/>
<circle cx="503.3" cy="671.2" r="2.1"/>
<circle cx="503.6" cy="659.5" r="2.1"/>
<circle cx="502.7" cy="666.0" r="2.1"/>
<circle cx="474.4" cy="664.8" r="2.1"/>
<circle cx="512.6" cy="667.7" r="2.1"/>
<circle cx="501.4" cy="658.5" r="2.1"/>
<circle cx="517.1" cy="645.9" r="2.1"/>
<circle cx="502.4" cy="677.3" r="2.1"/>
<circle cx="496.2" cy="687.3" r="2.1"/>
<circle cx="479.8" cy="681.2" r="2.1"/>
<circle cx="488.4" cy="659.1" r="2.1"/>
<circle cx="520.8" cy="678.2" r="2.1"/>
<circle cx="503.2" cy="687.9" r="2.1"/>
<circle cx="506.1" cy="670.3" r="2.1"/>
<circle cx="466.8" cy="643.4" r="2.1"/>
<circle cx="485.9" cy="684.7" r="2.1"/>
<circle cx="505.7" cy="660.8" r="2.1"/>
<circle cx="504.5" cy="640.8" r="2.1"/>
<circle cx="484.0" cy="688.0" r="2.1"/>
<circle cx="529.2" cy="676.9" r="2.1"/>
<circle cx="461.3" cy="672.6" r="2.1"/>
<circle cx="528.1" cy="664.9" r="2.1"/>
<circle cx="496.5" cy="661.8" r="2.1"/>
<circle cx="518.7" cy="646.1" r="2.1"/>
<circle cx="522.1" cy="681.5" r="2.1"/>
<circle cx="513.5" cy="677.7" r="2.1"/>
<circle cx="487.8" cy="648.4" r="2.1"/>
<circle cx="518.0" cy="686.9" r="2.1"/>
<circle cx="475.4" cy="635.5" r="2.1"/>
<circle cx="496.4" cy="679.4" r="2.1"/>
<circle cx="507.0" cy="682.0" r="2.1"/>
<circle cx="495.3" cy="675.0" r="2.1"/>
<circle cx="516.5" cy="688.1" r="2.1"/>
<circle cx="491.4" cy="667.6" r="2.1"/>
<circle cx="500.8" cy="666.0" r="2.1"/>
<circle cx="485.2" cy="681.7" r="2.1"/>
<circle cx="473.0" cy="639.7" r="2.1"/>
<circle cx="480.3" cy="676.9" r="2.1"/>
<circle cx="495.0" cy="649.5" r="2.1"/>
<circle cx="465.1" cy="680.3" r="2.1"/>
<circle cx="490.9" cy="640.4" r="2.1"/>
<circle cx="464.9" cy="665.7" r="2.1"/>
<circle cx="515.7" cy="681.2" r="2.1"/>
<circle cx="508.0" cy="671.3" r="2.1"/>
<circle cx="460.6" cy="650.7" r="2.1"/>
<circle cx="503.1" cy="640.4" r="2.1"/>
<circle cx="506.6" cy="649.3" r="2.1"/>
<circle cx="491.5" cy="672.7" r="2.1"/>
<circle cx="466.4" cy="685.5" r="2.1"/>
<circle cx="491.8" cy="688.4" r="2.1"/>
<circle cx="458.6" cy="686.1" r="2.1"/>
<circle cx="476.7" cy="661.9" r="2.1"/>
<circle cx="516.6" cy="681.8" r="2.1"/>
<circle cx="471.6" cy="659.4" r="2.1"/>
<circle cx="484.8" cy="688.6" r="2.1"/>
<circle cx="477.6" cy="686.0" r="2.1"/>
<circle cx="497.0" cy="683.3" r="2.1"/>
<circle cx="459.8" cy="688.0" r="2.1"/>
<circle cx="512.8" cy="641.0" r="2.1"/>
<circle cx="524.3" cy="670.8" r="2.1"/>
<circle cx="466.3" cy="661.7" r="2.1"/>
<circle cx="491.3" cy="671.3" r="2.1"/>
<circle cx="467.3" cy="687.7" r="2.1"/>
<circle cx="480.0" cy="677.4" r="2.1"/>
<circle cx="486.4" cy="635.6" r="2.1"/>
<circle cx="485.6" cy="681.0" r="2.1"/>
<circle cx="524.5" cy="680.7" r="2.1"/>
<circle cx="466.3" cy="658.8" r="2.1"/>
<circle cx="502.1" cy="682.3" r="2.1"/>
<circle cx="465.2" cy="646.5" r="2.1"/>
<circle cx="512.1" cy="645.8" r="2.1"/>
<circle cx="459.8" cy="684.5" r="2.1"/>
<circle cx="495.6" cy="678.9" r="2.1"/>
<circle cx="498.0" cy="678.4" r="2.1"/>
<circle cx="492.3" cy="655.4" r="2.1"/>
<circle cx="451.7" cy="671.6" r="2.1"/>
<circle cx="507.1" cy="665.8" r="2.1"/>
<circle cx="519.8" cy="674.9" r="2.1"/>
<circle cx="514.1" cy="674.1" r="2.1"/>
<circle cx="496.6" cy="673.2" r="2.1"/>
<circle cx="534.0" cy="671.8" r="2.1"/>
<circle cx="497.8" cy="657.7" r="2.1"/>
<circle cx="510.3" cy="668.5" r="2.1"/>
<circle cx="472.4" cy="686.1" r="2.1"/>
<circle cx="497.9" cy="662.1" r="2.1"/>
<circle cx="514.5" cy="653.5" r="2.1"/>
<circle cx="485.9" cy="676.9" r="2.1"/>
<circle cx="455.5" cy="671.7" r="2.1"/>
<circle cx="487.3" cy="675.8" r="2.1"/>
<circle cx="472.9" cy="657.5" r="2.1"/>
<circle cx="452.1" cy="664.6" r="2.1"/>
<circle cx="530.2" cy="680.3" r="2.1"/>
<circle cx="498.6" cy="654.3" r="2.1"/>
<circle cx="501.3" cy="661.8" r="2.1"/>
<circle cx="511.3" cy="685.4" r="2.1"/>
<circle cx="498.6" cy="660.9" r="2.1"/>
<circle cx="482.3" cy="675.6" r="2.1"/>
<circle cx="477.8" cy="681.6" r="2.1"/>
<circle cx="516.2" cy="659.9" r="2.1"/>
<circle cx="461.2" cy="686.7" r="2.1"/>
<circle cx="477.6" cy="639.5" r="2.1"/>
<circle cx="507.8" cy="683.1" r="2.1"/>
<circle cx="484.1" cy="687.1" r="2.1"/>
<circle cx="459.6" cy="657.4" r="2.1"/>
<circle cx="529.2" cy="684.5" r="2.1"/>
<circle cx="505.7" cy="658.1" r="2.1"/>
<circle cx="480.4" cy="687.8" r="2.1"/>
<circle cx="475.4" cy="679.3" r="2.1"/>
<circle cx="508.5" cy="625.8" r="2.1"/>
<circle cx="516.1" cy="677.8" r="2.1"/>
<circle cx="493.6" cy="666.6" r="2.1"/>
<circle cx="504.7" cy="677.7" r="2.1"/>
<circle cx="486.1" cy="686.3" r="2.1"/>
<circle cx="515.1" cy="646.4" r="2.1"/>
<circle cx="517.1" cy="665.1" r="2.1"/>
<circle cx="504.5" cy="630.7" r="2.1"/>
<circle cx="483.7" cy="625.6" r="2.1"/>
<circle cx="485.5" cy="676.0" r="2.1"/>
<circle cx="471.4" cy="658.3" r="2.1"/>
<circle cx="460.0" cy="674.2" r="2.1"/>
<circle cx="492.9" cy="671.0" r="2.1"/>
<circle cx="474.9" cy="670.7" r="2.1"/>
<circle cx="496.9" cy="682.4" r="2.1"/>
<circle cx="498.7" cy="657.5" r="2.1"/>
<circle cx="499.8" cy="661.6" r="2.1"/>
<circle cx="481.0" cy="682.8" r="2.1"/>
<circle cx="468.2" cy="681.2" r="2.1"/>
<circle cx="475.7" cy="681.2" r="2.1"/>
<circle cx="515.3" cy="664.5" r="2.1"/>
<circle cx="499.2" cy="637.5" r="2.1"/>
<circle cx="516.4" cy="669.7" r="2.1"/>
<circle cx="517.9" cy="659.7" r="2.1"/>
<circle cx="526.8" cy="671.5" r="2.1"/>
<circle cx="520.1" cy="660.5" r="2.1"/>
<circle cx="504.6" cy="685.1" r="2.1"/>
<circle cx="518.0" cy="666.4" r="2.1"/>
<circle cx="498.4" cy="680.3" r="2.1"/>
<circle cx="501.0" cy="679.7" r="2.1"/>
<circle cx="467.4" cy="669.6" r="2.1"/>
<circle cx="490.9" cy="628.3" r="2.1"/>
<circle cx="496.1" cy="677.4" r="2.1"/>
<circle cx="529.8" cy="662.7" r="2.1"/>
<circle cx="463.8" cy="673.1" r="2.1"/>
<circle cx="485.1" cy="659.3" r="2.1"/>
<circle cx="487.0" cy="670.1" r="2.1"/>
<circle cx="489.2" cy="677.8" r="2.1"/>
<circle cx="498.9" cy="664.2" r="2.1"/>
<circle cx="504.4" cy="679.9" r="2.1"/>
<circle cx="524.8" cy="672.5" r="2.1"/>
<circle cx="515.9" cy="680.6" r="2.1"/>
<circle cx="496.8" cy="682.5" r="2.1"/>
<circle cx="502.1" cy="681.7" r="2.1"/>
<circle cx="484.5" cy="672.3" r="2.1"/>
<circle cx="496.3" cy="673.9" r="2.1"/>
<circle cx="533.7" cy="676.6" r="2.1"/>
<circle cx="499.5" cy="631.2" r="2.1"/>
<circle cx="468.5" cy="650.2" r="2.1"/>
<circle cx="460.7" cy="685.0" r="2.1"/>
<circle cx="462.2" cy="674.2" r="2.1"/>
<circle cx="493.9" cy="646.6" r="2.1"/>
<circle cx="525.8" cy="680.9" r="2.1"/>
<circle cx="513.7" cy="676.7" r="2.1"/>
<circle cx="479.9" cy="678.5" r="2.1"/>
<circle cx="520.5" cy="680.9" r="2.1"/>
<circle cx="489.0" cy="651.2" r="2.1"/>
<circle cx="466.4" cy="659.2" r="2.1"/>
<circle cx="452.1" cy="676.9" r="2.1"/>
<circle cx="530.5" cy="670.6" r="2.1"/>
<circle cx="498.1" cy="672.1" r="2.1"/>
<circle cx="513.4" cy="679.1" r="2.1"/>
<circle cx="516.8" cy="680.4" r="2.1"/>
<circle cx="474.4" cy="649.1" r="2.1"/>
<circle cx="511.8" cy="661.3" r="2.1"/>
<circle cx="487.4" cy="681.8" r="2.1"/>
<circle cx="490.9" cy="631.3" r="2.1"/>
<circle cx="498.6" cy="684.6" r="2.1"/>
<circle cx="471.8" cy="687.5" r="2.1"/>
<circle cx="502.5" cy="676.8" r="2.1"/>
<circle cx="460.6" cy="654.5" r="2.1"/>
<circle cx="519.5" cy="681.8" r="2.1"/>
<circle cx="515.3" cy="687.7" r="2.1"/>
<circle cx="475.9" cy="675.7" r="2.1"/>
<circle cx="487.8" cy="654.0" r="2.1"/>
<circle cx="497.5" cy="646.1" r="2.1"/>
<circle cx="510.0" cy="683.1" r="2.1"/>
<circle cx="468.9" cy="673.1" r="2.1"/>
<circle cx="499.4" cy="667.0" r="2.1"/>
<circle cx="476.0" cy="644.4" r="2.1"/>
<circle cx="473.4" cy="680.5" r="2.1"/>
<circle cx="506.7" cy="661.5" r="2.1"/>
<circle cx="473.7" cy="670.8" r="2.1"/>
<circle cx="512.9" cy="664.0" r="2.1"/>
<circle cx="501.4" cy="664.7" r="2.1"/>
<circle cx="465.1" cy="672.3" r="2.1"/>
<circle cx="489.5" cy="656.3" r="2.1"/>
<circle cx="510.5" cy="663.5" r="2.1"/>
<circle cx="490.9" cy="684.2" r="2.1"/>
<circle cx="497.1" cy="681.9" r="2.1"/>
<circle cx="478.3" cy="654.6" r="2.1"/>
<circle cx="502.7" cy="672.7" r="2.1"/>
<circle cx="528.9" cy="664.5" r="2.1"/>
<circle cx="483.4" cy="655.5" r="2.1"/>
<circle cx="519.4" cy="674.6" r="2.1"/>
<circle cx="446.6" cy="681.2" r="2.1"/>
<circle cx="494.9" cy="667.3" r="2.1"/>
<circle cx="507.7" cy="688.1" r="2.1"/>
<circle cx="474.8" cy="676.1" r="2.1"/>
<circle cx="487.6" cy="670.0" r="2.1"/>
<circle cx="490.5" cy="644.3" r="2.1"/>
<circle cx="495.5" cy="657.5" r="2.1"/>
<circle cx="498.4" cy="647.1" r="2.1"/>
<circle cx="513.2" cy="663.6" r="2.1"/>
<circle cx="533.4" cy="684.1" r="2.1"/>
<circle cx="520.3" cy="680.0" r="2.1"/>
<circle cx="519.3" cy="683.6" r="2.1"/>
<circle cx="504.4" cy="626.1" r="2.1"/>
<circle cx="525.2" cy="687.7" r="2.1"/>
<circle cx="522.5" cy="686.6" r="2.1"/>
<circle cx="526.3" cy="667.5" r="2.1"/>
<circle cx="481.1" cy="665.9" r="2.1"/>
<circle cx="505.7" cy="684.1" r="2.1"/>
<circle cx="502.0" cy="684.2" r="2.1"/>
<circle cx="491.3" cy="639.2" r="2.1"/>
<circle cx="501.8" cy="663.7" r="2.1"/>
<circle cx="481.8" cy="635.2" r="2.1"/>
<circle cx="531.2" cy="670.8" r="2.1"/>
<circle cx="509.0" cy="674.7" r="2.1"/>
<circle cx="502.3" cy="632.9" r="2.1"/>
<circle cx="471.5" cy="676.0" r="2.1"/>
<circle cx="464.1" cy="666.0" r="2.1"/>
<circle cx="532.9" cy="666.6" r="2.1"/>
<circle cx="475.0" cy="661.9" r="2.1"/>
<circle cx="504.7" cy="627.5" r="2.1"/>
<circle cx="528.1" cy="678.6" r="2.1"/>
<circle cx="527.0" cy="680.3" r="2.1"/>
<circle cx="498.1" cy="682.4" r="2.1"/>
<circle cx="461.1" cy="674.6" r="2.1"/>
<circle cx="494.5" cy="673.2" r="2.1"/>
<circle cx="478.6" cy="661.3" r="2.1"/>
<circle cx="477.6" cy="636.0" r="2.1"/>
<circle cx="466.9" cy="659.2" r="2.1"/>
<circle cx="478.3" cy="653.1" r="2.1"/>
<circle cx="507.7" cy="685.8" r="2.1"/>
<circle cx="520.2" cy="643.6" r="2.1"/>
<circle cx="494.5" cy="681.3" r="2.1"/>
<circle cx="499.4" cy="621.4" r="2.1"/>
<circle cx="465.9" cy="684.7" r="2.1"/>
<circle cx="483.6" cy="680.8" r="2.1"/>
<circle cx="478.1" cy="647.8" r="2.1"/>
<circle cx="488.4" cy="620.3" r="2.1"/>
<circle cx="507.1" cy="686.7" r="2.1"/>
<circle cx="482.0" cy="662.2" r="2.1"/>
<circle cx="523.5" cy="664.4" r="2.1"/>
<circle cx="464.7" cy="678.9" r="2.1"/>
<circle cx="505.7" cy="675.9" r="2.1"/>
<circle cx="467.9" cy="685.4" r="2.1"/>
<circle cx="469.1" cy="676.6" r="2.1"/>
<circle cx="489.9" cy="631.4" r="2.1"/>
<circle cx="463.6" cy="658.8" r="2.1"/>
<circle cx="491.7" cy="635.5" r="2.1"/>
<circle cx="527.4" cy="658.9" r="2.1"/>
<circle cx="475.6" cy="642.6" r="2.1"/>
<circle cx="495.9" cy="670.9" r="2.1"/>
<circle cx="502.1" cy="684.7" r="2.1"/>
<circle cx="497.5" cy="662.6" r="2.1"/>
<circle cx="491.4" cy="678.1" r="2.1"/>
<circle cx="529.1" cy="679.3" r="2.1"/>
<circle cx="504.0" cy="670.5" r="2.1"/>
<circle cx="504.2" cy="687.8" r="2.1"/>
<circle cx="497.1" cy="661.1" r="2.1"/>
<circle cx="497.8" cy="643.2" r="2.1"/>
<circle cx="489.9" cy="677.0" r="2.1"/>
<circle cx="512.6" cy="679.3" r="2.1"/>
<circle cx="486.0" cy="678.1" r="2.1"/>
<circle cx="477.1" cy="680.5" r="2.1"/>
<circle cx="485.4" cy="624.0" r="2.1"/>
<circle cx="521.0" cy="680.4" r="2.1"/>
<circle cx="490.1" cy="683.1" r="2.1"/>
<circle cx="457.5" cy="670.3" r="2.1"/>
<circle cx="493.7" cy="673.4" r="2.1"/>
<circle cx="494.5" cy="680.6" r="2.1"/>
<circle cx="468.7" cy="685.8" r="2.1"/>
<circle cx="499.7" cy="674.3" r="2.1"/>
<circle cx="532.0" cy="681.0" r="2.1"/>
<circle cx="509.4" cy="684.2" r="2.1"/>
<circle cx="490.7" cy="686.2" r="2.1"/>
<circle cx="458.4" cy="673.2" r="2.1"/>
<circle cx="499.5" cy="675.2" r="2.1"/>
<circle cx="478.1" cy="687.5" r="2.1"/>
<circle cx="505.1" cy="626.4" r="2.1"/>
<circle cx="470.4" cy="636.4" r="2.1"/>
<circle cx="495.2" cy="646.1" r="2.1"/>
<circle cx="520.0" cy="687.6" r="2.1"/>
<circle cx="457.7" cy="674.6" r="2.1"/>
<circle cx="475.0" cy="666.5" r="2.1"/>
<circle cx="498.3" cy="684.4" r="2.1"/>
<circle cx="470.0" cy="653.1" r="2.1"/>
<circle cx="495.6" cy="688.2" r="2.1"/>
<circle cx="482.3" cy="628.0" r="2.1"/>
<circle cx="496.4" cy="641.9" r="2.1"/>
<circle cx="488.5" cy="685.7" r="2.1"/>
<circle cx="491.0" cy="669.9" r="2.1"/>
<circle cx="471.1" cy="636.8" r="2.1"/>
<circle cx="508.5" cy="688.1" r="2.1"/>
<circle cx="481.3" cy="622.2" r="2.1"/>
<circle cx="456.6" cy="657.2" r="2.1"/>
<circle cx="479.9" cy="635.5" r="2.1"/>
<circle cx="504.6" cy="669.4" r="2.1"/>
<circle cx="518.7" cy="687.3" r="2.1"/>
<circle cx="479.9" cy="658.5" r="2.1"/>
<circle cx="516.0" cy="687.7" r="2.1"/>
<circle cx="500.4" cy="652.5" r="2.1"/>
<circle cx="476.2" cy="672.3" r="2.1"/>
<circle cx="496.6" cy="685.3" r="2.1"/>
<circle cx="498.2" cy="681.7" r="2.1"/>
<circle cx="479.5" cy="676.0" r="2.1"/>
<circle cx="476.8" cy="687.1" r="2.1"/>
<circle cx="471.5" cy="680.3" r="2.1"/>
<circle cx="492.1" cy="666.3" r="2.1"/>
<circle cx="506.7" cy="672.4" r="2.1"/>
<circle cx="506.0" cy="681.5" r="2.1"/>
<circle cx="508.8" cy="681.7" r="2.1"/>
<circle cx="490.3" cy="681.4" r="2.1"/>
<circle cx="474.3" cy="684.9" r="2.1"/>
<circle cx="498.4" cy="650.7" r="2.1"/>
<circle cx="517.8" cy="670.9" r="2.1"/>
<circle cx="485.5" cy="656.5" r="2.1"/>
<circle cx="500.3" cy="678.7" r="2.1"/>
<circle cx="478.0" cy="645.0" r="2.1"/>
<circle cx="515.2" cy="685.8" r="2.1"/>
<circle cx="472.2" cy="672.5" r="2.1"/>
<circle cx="477.9" cy="655.4" r="2.1"/>
<circle cx="463.2" cy="646.5" r="2.1"/>
<circle cx="488.6" cy="627.3" r="2.1"/>
<circle cx="470.5" cy="682.6" r="2.1"/>
<circle cx="518.0" cy="665.1" r="2.1"/>
<circle cx="460.2" cy="662.0" r="2.1"/>
<circle cx="502.3" cy="680.7" r="2.1"/>
<circle cx="513.8" cy="641.6" r="2.1"/>
<circle cx="502.4" cy="676.1" r="2.1"/>
<circle cx="511.1" cy="676.3" r="2.1"/>
<circle cx="455.0" cy="670.0" r="2.1"/>
<circle cx="452.5" cy="678.4" r="2.1"/>
<circle cx="494.8" cy="661.2" r="2.1"/>
<circle cx="486.3" cy="656.8" r="2.1"/>
<circle cx="472.9" cy="668.7" r="2.1"/>
<circle cx="485.9" cy="684.0" r="2.1"/>
<circle cx="513.6" cy="674.4" r="2.1"/>
<circle cx="534.2" cy="686.3" r="2.1"/>
<circle cx="472.2" cy="678.0" r="2.1"/>
<circle cx="499.3" cy="639.3" r="2.1"/>
<circle cx="505.2" cy="680.1" r="2.1"/>
<circle cx="486.1" cy="686.0" r="2.1"/>
<circle cx="533.0" cy="681.6" r="2.1"/>
<circle cx="487.9" cy="670.5" r="2.1"/>
<circle cx="511.9" cy="683.5" r="2.1"/>
<circle cx="499.5" cy="645.6" r="2.1"/>
<circle cx="511.4" cy="670.6" r="2.1"/>
<circle cx="481.0" cy="652.9" r="2.1"/>
<circle cx="486.3" cy="687.4" r="2.1"/>
<circle cx="509.3" cy="639.9" r="2.1"/>
<circle cx="498.4" cy="624.9" r="2.1"/>
<circle cx="488.3" cy="643.7" r="2.1"/>
<circle cx="520.3" cy="676.4" r="2.1"/>
<circle cx="490.8" cy="676.7" r="2.1"/>
<circle cx="504.1" cy="627.3" r="2.1"/>
<circle cx="520.6" cy="647.7" r="2.1"/>
<circle cx="508.1" cy="682.6" r="2.1"/>
<circle cx="480.0" cy="682.0" r="2.1"/>
<circle cx="480.5" cy="657.8" r="2.1"/>
<circle cx="505.0" cy="675.2" r="2.1"/>
<circle cx="508.7" cy="633.9" r="2.1"/>
<circle cx="506.7" cy="662.9" r="2.1"/>
<circle cx="454.9" cy="674.6" r="2.1"/>
<circle cx="514.8" cy="664.6" r="2.1"/>
<circle cx="469.6" cy="666.3" r="2.1"/>
<circle cx="489.4" cy="658.8" r="2.1"/>
<circle cx="521.8" cy="666.8" r="2.1"/>
<circle cx="482.4" cy="677.3" r="2.1"/>
<circle cx="457.9" cy="657.0" r="2.1"/>
<circle cx="459.3" cy="653.8" r="2.1"/>
<circle cx="506.4" cy="667.3" r="2.1"/>
<circle cx="477.6" cy="659.3" r="2.1"/>
<circle cx="487.0" cy="642.8" r="2.1"/>
<circle cx="516.9" cy="672.0" r="2.1"/>
<circle cx="504.7" cy="670.9" r="2.1"/>
<circle cx="527.7" cy="681.8" r="2.1"/>
<circle cx="490.2" cy="677.0" r="2.1"/>
<circle cx="481.0" cy="644.9" r="2.1"/>
<circle cx="538.4" cy="683.6" r="2.1"/>
<circle cx="536.4" cy="677.7" r="2.1"/>
<circle cx="520.1" cy="641.8" r="2.1"/>
<circle cx="475.9" cy="646.3" r="2.1"/>
<circle cx="482.0" cy="675.8" r="2.1"/>
<circle cx="470.2" cy="687.9" r="2.1"/>
<circle cx="494.2" cy="678.5" r="2.1"/>
<circle cx="510.1" cy="679.3" r="2.1"/>
<circle cx="483.4" cy="669.8" r="2.1"/>
<circle cx="487.4" cy="671.6" r="2.1"/>
<circle cx="502.1" cy="679.0" r="2.1"/>
<circle cx="476.9" cy="672.8" r="2.1"/>
<circle cx="499.8" cy="668.8" r="2.1"/>
<circle cx="494.9" cy="655.1" r="2.1"/>
<circle cx="497.9" cy="685.0" r="2.1"/>
<circle cx="516.7" cy="679.3" r="2.1"/>
<circle cx="509.3" cy="685.7" r="2.1"/>
<circle cx="513.0" cy="662.3" r="2.1"/>
<circle cx="490.5" cy="672.0" r="2.1"/>
<circle cx="510.7" cy="642.1" r="2.1"/>
<circle cx="494.6" cy="655.0" r="2.1"/>
<circle cx="521.7" cy="665.9" r="2.1"/>
<circle cx="496.4" cy="680.1" r="2.1"/>
<circle cx="502.6" cy="659.6" r="2.1"/>
<circle cx="494.0" cy="634.4" r="2.1"/>
<circle cx="474.9" cy="683.6" r="2.1"/>
<circle cx="495.3" cy="666.1" r="2.1"/>
<circle cx="510.2" cy="667.4" r="2.1"/>
<circle cx="498.0" cy="674.4" r="2.1"/>
<circle cx="531.0" cy="683.5" r="2.1"/>
<circle cx="460.9" cy="668.5" r="2.1"/>
<circle cx="513.3" cy="682.2" r="2.1"/>
<circle cx="488.5" cy="662.4" r="2.1"/>
<circle cx="515.3" cy="687.5" r="2.1"/>
<circle cx="508.7" cy="682.9" r="2.1"/>
<circle cx="499.6" cy="681.5" r="2.1"/>
<circle cx="483.7" cy="677.8" r="2.1"/>
<circle cx="514.9" cy="649.9" r="2.1"/>
<circle cx="455.3" cy="687.9" r="2.1"/>
<circle cx="491.1" cy="656.9" r="2.1"/>
<circle cx="500.5" cy="672.4" r="2.1"/>
<circle cx="483.9" cy="646.0" r="2.1"/>
<circle cx="517.6" cy="669.2" r="2.1"/>
<circle cx="469.6" cy="648.4" r="2.1"/>
<circle cx="461.5" cy="667.6" r="2.1"/>
<circle cx="512.6" cy="680.9" r="2.1"/>
<circle cx="463.1" cy="655.1" r="2.1"/>
<circle cx="479.9" cy="666.7" r="2.1"/>
<circle cx="500.7" cy="657.0" r="2.1"/>
<circle cx="502.1" cy="681.7" r="2.1"/>
<circle cx="523.1" cy="664.1" r="2.1"/>
<circle cx="502.2" cy="685.9" r="2.1"/>
<circle cx="481.1" cy="667.9" r="2.1"/>
<circle cx="480.5" cy="660.3" r="2.1"/>
<circle cx="488.1" cy="687.2" r="2.1"/>
<circle cx="484.7" cy="675.9" r="2.1"/>
<circle cx="475.4" cy="646.5" r="2.1"/>
<circle cx="490.2" cy="648.6" r="2.1"/>
<circle cx="521.5" cy="664.4" r="2.1"/>
<circle cx="506.5" cy="658.9" r="2.1"/>
<circle cx="522.4" cy="659.5" r="2.1"/>
<circle cx="462.8" cy="671.7" r="2.1"/>
<circle cx="488.1" cy="677.2" r="2.1"/>
<circle cx="491.9" cy="683.4" r="2.1"/>
<circle cx="463.3" cy="687.6" r="2.1"/>
<circle cx="478.3" cy="682.5" r="2.1"/>
<circle cx="484.4" cy="654.2" r="2.1"/>
<circle cx="481.8" cy="636.5" r="2.1"/>
<circle cx="477.7" cy="685.1" r="2.1"/>
<circle cx="491.7" cy="657.0" r="2.1"/>
<circle cx="473.8" cy="686.8" r="2.1"/>
<circle cx="491.0" cy="683.0" r="2.1"/>
<circle cx="468.3" cy="682.9" r="2.1"/>
<circle cx="502.7" cy="682.9" r="2.1"/>
<circle cx="450.6" cy="668.9" r="2.1"/>
<circle cx="481.4" cy="683.3" r="2.1"/>
<circle cx="476.2" cy="682.7" r="2.1"/>
<circle cx="494.2" cy="654.3" r="2.1"/>
<circle cx="490.9" cy="674.9" r="2.1"/>
<circle cx="500.4" cy="637.7" r="2.1"/>
<circle cx="498.2" cy="625.9" r="2.1"/>
<circle cx="479.2" cy="653.3" r="2.1"/>
<circle cx="497.7" cy="653.6" r="2.1"/>
<circle cx="456.1" cy="656.6" r="2.1"/>
<circle cx="468.4" cy="663.0" r="2.1"/>
<circle cx="488.7" cy="659.9" r="2.1"/>
<circle cx="515.3" cy="676.1" r="2.1"/>
<circle cx="500.8" cy="678.1" r="2.1"/>
<circle cx="487.5" cy="687.4" r="2.1"/>
<circle cx="474.4" cy="651.3" r="2.1"/>
<circle cx="511.3" cy="666.6" r="2.1"/>
<circle cx="509.1" cy="654.1" r="2.1"/>
<circle cx="491.7" cy="677.2" r="2.1"/>
<circle cx="506.0" cy="676.3" r="2.1"/>
<circle cx="510.1" cy="670.7" r="2.1"/>
<circle cx="503.8" cy="682.4" r="2.1"/>
<circle cx="484.5" cy="638.8" r="2.1"/>
<circle cx="487.6" cy="645.6" r="2.1"/>
<circle cx="508.7" cy="681.6" r="2.1"/>
<circle cx="482.3" cy="682.4" r="2.1"/>
<circle cx="487.1" cy="647.2" r="2.1"/>
<circle cx="477.8" cy="653.3" r="2.1"/>
<circle cx="469.3" cy="675.9" r="2.1"/>
<circle cx="461.6" cy="686.7" r="2.1"/>
<circle cx="516.6" cy="688.6" r="2.1"/>
<circle cx="490.3" cy="632.7" r="2.1"/>
<circle cx="509.1" cy="681.6" r="2.1"/>
<circle cx="476.9" cy="671.4" r="2.1"/>
<circle cx="486.8" cy="663.3" r="2.1"/>
<circle cx="477.9" cy="638.1" r="2.1"/>
<circle cx="493.7" cy="676.5" r="2.1"/>
<circle cx="509.8" cy="628.7" r="2.1"/>
<circle cx="484.4" cy="676.3" r="2.1"/>
<circle cx="484.1" cy="659.1" r="2.1"/>
<circle cx="478.2" cy="657.8" r="2.1"/>
<circle cx="460.2" cy="652.9" r="2.1"/>
<circle cx="508.4" cy="658.1" r="2.1"/>
<circle cx="516.8" cy="638.7" r="2.1"/>
<circle cx="476.8" cy="685.8" r="2.1"/>
<circle cx="465.8" cy="676.3" r="2.1"/>
<circle cx="470.2" cy="656.3" r="2.1"/>
<circle cx="456.3" cy="670.5" r="2.1"/>
<circle cx="497.2" cy="679.9" r="2.1"/>
<circle cx="475.1" cy="680.8" r="2.1"/>
<circle cx="471.9" cy="669.4" r="2.1"/>
<circle cx="511.5" cy="661.3" r="2.1"/>
<circle cx="519.0" cy="670.6" r="2.1"/>
<circle cx="505.0" cy="682.2" r="2.1"/>
<circle cx="492.8" cy="634.5" r="2.1"/>
<circle cx="509.8" cy="681.4" r="2.1"/>
<circle cx="486.8" cy="641.8" r="2.1"/>
<circle cx="497.8" cy="681.5" r="2.1"/>
<circle cx="521.8" cy="676.8" r="2.1"/>
<circle cx="460.6" cy="681.9" r="2.1"/>
<circle cx="526.5" cy="681.6" r="2.1"/>
<circle cx="484.7" cy="674.3" r="2.1"/>
<circle cx="453.4" cy="682.6" r="2.1"/>
<circle cx="513.8" cy="687.0" r="2.1"/>
<circle cx="503.0" cy="684.2" r="2.1"/>
<circle cx="529.2" cy="662.8" r="2.1"/>
<circle cx="523.5" cy="681.9" r="2.1"/>
<circle cx="502.9" cy="671.2" r="2.1"/>
<circle cx="491.1" cy="672.4" r="2.1"/>
<circle cx="519.4" cy="680.7" r="2.1"/>
<circle cx="499.6" cy="664.6" r="2.1"/>
<circle cx="457.0" cy="677.0" r="2.1"/>
<circle cx="499.8" cy="655.2" r="2.1"/>
<circle cx="508.5" cy="666.7" r="2.1"/>
<circle cx="500.6" cy="643.4" r="2.1"/>
<circle cx="467.5" cy="681.3" r="2.1"/>
<circle cx="504.0" cy="679.6" r="2.1"/>
<circle cx="509.2" cy="666.9" r="2.1"/>
<circle cx="485.7" cy="687.3" r="2.1"/>
<circle cx="508.9" cy="655.8" r="2.1"/>
<circle cx="483.3" cy="670.6" r="2.1"/>
<circle cx="505.3" cy="655.9" r="2.1"/>
<circle cx="471.1" cy="646.1" r="2.1"/>
<circle cx="515.9" cy="663.8" r="2.1"/>
<circle cx="503.3" cy="671.2" r="2.1"/>
<circle cx="485.5" cy="688.5" r="2.1"/>
<circle cx="500.0" cy="671.9" r="2.1"/>
<circle cx="503.3" cy="686.8" r="2.1"/>
<circle cx="484.7" cy="665.2" r="2.1"/>
<circle cx="501.0" cy="659.8" r="2.1"/>
<circle cx="506.1" cy="679.6" r="2.1"/>
<circle cx="498.6" cy="681.3" r="2.1"/>
<circle cx="516.1" cy="681.2" r="2.1"/>
<circle cx="474.2" cy="666.7" r="2.1"/>
<circle cx="488.5" cy="664.2" r="2.1"/>
<circle cx="474.1" cy="679.9" r="2.1"/>
<circle cx="500.9" cy="641.6" r="2.1"/>
<circle cx="515.7" cy="678.5" r="2.1"/>
<circle cx="467.0" cy="655.4" r="2.1"/>
<circle cx="460.5" cy="682.4" r="2.1"/>
<circle cx="517.1" cy="685.0" r="2.1"/>
<circle cx="495.6" cy="636.7" r="2.1"/>
<circle cx="489.5" cy="663.5" r="2.1"/>
<circle cx="505.8" cy="671.0" r="2.1"/>
<circle cx="480.9" cy="684.1" r="2.1"/>
<circle cx="480.6" cy="663.0" r="2.1"/>
<circle cx="478.7" cy="666.4" r="2.1"/>
<circle cx="504.4" cy="683.8" r="2.1"/>
<circle cx="489.5" cy="686.8" r="2.1"/>
<circle cx="507.2" cy="655.8" r="2.1"/>
<circle cx="486.5" cy="656.2" r="2.1"/>
<circle cx="519.5" cy="668.2" r="2.1"/>
<circle cx="455.3" cy="682.3" r="2.1"/>
<circle cx="508.7" cy="632.1" r="2.1"/>
<circle cx="477.3" cy="671.4" r="2.1"/>
<circle cx="478.5" cy="652.6" r="2.1"/>
<circle cx="502.9" cy="651.3" r="2.1"/>
<circle cx="525.6" cy="683.6" r="2.1"/>
<circle cx="515.1" cy="669.3" r="2.1"/>
<circle cx="502.9" cy="682.4" r="2.1"/>
<circle cx="460.9" cy="687.2" r="2.1"/>
<circle cx="495.2" cy="683.3" r="2.1"/>
<circle cx="485.9" cy="679.7" r="2.1"/>
<circle cx="518.9" cy="679.0" r="2.1"/>
<circle cx="496.1" cy="678.0" r="2.1"/>
<circle cx="458.2" cy="650.4" r="2.1"/>
<circle cx="506.9" cy="687.2" r="2.1"/>
<circle cx="502.7" cy="632.4" r="2.1"/>
<circle cx="506.8" cy="626.5" r="2.1"/>
<circle cx="505.7" cy="666.0" r="2.1"/>
<circle cx="518.4" cy="644.2" r="2.1"/>
<circle cx="525.8" cy="670.6" r="2.1"/>
<circle cx="464.2" cy="681.6" r="2.1"/>
<circle cx="507.4" cy="684.3" r="2.1"/>
<circle cx="478.4" cy="671.8" r="2.1"/>
<circle cx="497.1" cy="672.4" r="2.1"/>
<circle cx="497.2" cy="673.0" r="2.1"/>
<circle cx="489.5" cy="625.3" r="2.1"/>
<circle cx="496.1" cy="681.6" r="2.1"/>
<circle cx="491.1" cy="672.6" r="2.1"/>
<circle cx="479.5" cy="674.6" r="2.1"/>
<circle cx="494.7" cy="677.4" r="2.1"/>
<circle cx="481.3" cy="681.5" r="2.1"/>
<circle cx="515.5" cy="678.8" r="2.1"/>
<circle cx="452.9" cy="669.5" r="2.1"/>
<circle cx="481.7" cy="661.8" r="2.1"/>
<circle cx="488.5" cy="651.3" r="2.1"/>
<circle cx="474.0" cy="645.3" r="2.1"/>
<circle cx="504.8" cy="687.3" r="2.1"/>
<circle cx="487.2" cy="659.1" r="2.1"/>
<circle cx="514.4" cy="673.0" r="2.1"/>
<circle cx="494.5" cy="664.3" r="2.1"/>
<circle cx="452.2" cy="670.5" r="2.1"/>
<circle cx="512.6" cy="634.8" r="2.1"/>
<circle cx="517.5" cy="681.8" r="2.1"/>
<circle cx="503.7" cy="639.2" r="2.1"/>
<circle cx="504.7" cy="637.2" r="2.1"/>
<circle cx="512.0" cy="675.8" r="2.1"/>
<circle cx="499.6" cy="686.9" r="2.1"/>
<circle cx="481.2" cy="678.3" r="2.1"/>
<circle cx="456.0" cy="680.8" r="2.1"/>
<circle cx="528.8" cy="684.8" r="2.1"/>
<circle cx="492.3" cy="670.1" r="2.1"/>
<circle cx="484.2" cy="623.2" r="2.1"/>
<circle cx="481.7" cy="673.4" r="2.1"/>
<circle cx="475.8" cy="674.8" r="2.1"/>
<circle cx="499.7" cy="649.6" r="2.1"/>
<circle cx="516.1" cy="675.3" r="2.1"/>
<circle cx="487.0" cy="680.7" r="2.1"/>
<circle cx="468.7" cy="665.8" r="2.1"/>
<circle cx="475.9" cy="662.8" r="2.1"/>
<circle cx="513.6" cy="670.0" r="2.1"/>
<circle cx="493.3" cy="673.6" r="2.1"/>
<circle cx="488.1" cy="682.4" r="2.1"/>
<circle cx="515.5" cy="666.1" r="2.1"/>
<circle cx="461.9" cy="681.9" r="2.1"/>
<circle cx="501.8" cy="675.2" r="2.1"/>
<circle cx="522.3" cy="681.8" r="2.1"/>
<circle cx="503.2" cy="680.1" r="2.1"/>
<circle cx="486.7" cy="665.9" r="2.1"/>
<circle cx="522.5" cy="669.1" r="2.1"/>
<circle cx="459.9" cy="686.7" r="2.1"/>
<circle cx="513.9" cy="663.5" r="2.1"/>
<circle cx="499.2" cy="676.9" r="2.1"/>
<circle cx="503.1" cy="684.2" r="2.1"/>
<circle cx="480.2" cy="659.1" r="2.1"/>
<circle cx="502.7" cy="656.8" r="2.1"/>
<circle cx="500.5" cy="630.2" r="2.1"/>
<circle cx="488.6" cy="633.2" r="2.1"/>
<circle cx="488.6" cy="658.6" r="2.1"/>
<circle cx="473.6" cy="662.6" r="2.1"/>
<circle cx="510.0" cy="635.3" r="2.1"/>
<circle cx="492.4" cy="651.9" r="2.1"/>
<circle cx="520.7" cy="675.3" r="2.1"/>
<circle cx="500.1" cy="672.3" r="2.1"/>
<circle cx="487.8" cy="679.6" r="2.1"/>
<circle cx="491.2" cy="640.9" r="2.1"/>
<circle cx="475.9" cy="684.0" r="2.1"/>
<circle cx="486.4" cy="668.6" r="2.1"/>
<circle cx="487.5" cy="675.4" r="2.1"/>
<circle cx="479.6" cy="656.0" r="2.1"/>
<circle cx="468.9" cy="668.5" r="2.1"/>
<circle cx="505.1" cy="647.8" r="2.1"/>
<circle cx="493.9" cy="658.0" r="2.1"/>
<circle cx="507.1" cy="685.7" r="2.1"/>
<circle cx="488.2" cy="642.8" r="2.1"/>
<circle cx="491.4" cy="654.7" r="2.1"/>
<circle cx="509.1" cy="625.1" r="2.1"/>
<circle cx="521.6" cy="658.8" r="2.1"/>
<circle cx="494.2" cy="682.0" r="2.1"/>
<circle cx="500.8" cy="635.0" r="2.1"/>
<circle cx="491.1" cy="675.6" r="2.1"/>
<circle cx="504.4" cy="682.3" r="2.1"/>
<circle cx="472.1" cy="645.9" r="2.1"/>
<circle cx="485.7" cy="681.7" r="2.1"/>
<circle cx="459.2" cy="662.0" r="2.1"/>
<circle cx="464.1" cy="666.6" r="2.1"/>
<circle cx="456.2" cy="655.0" r="2.1"/>
<circle cx="522.3" cy="657.2" r="2.1"/>
<circle cx="498.7" cy="668.1" r="2.1"/>
<circle cx="482.1" cy="675.5" r="2.1"/>
<circle cx="495.9" cy="677.0" r="2.1"/>
<circle cx="506.8" cy="666.2" r="2.1"/>
<circle cx="469.2" cy="660.0" r="2.1"/>
<circle cx="523.2" cy="669.0" r="2.1"/>
<circle cx="476.6" cy="669.3" r="2.1"/>
<circle cx="495.6" cy="674.6" r="2.1"/>
<circle cx="497.4" cy="682.8" r="2.1"/>
<circle cx="496.3" cy="653.2" r="2.1"/>
<circle cx="520.0" cy="650.5" r="2.1"/>
<circle cx="507.1" cy="661.8" r="2.1"/>
<circle cx="477.6" cy="655.7" r="2.1"/>
<circle cx="488.7" cy="671.9" r="2.1"/>
<circle cx="516.7" cy="670.8" r="2.1"/>
<circle cx="459.3" cy="687.3" r="2.1"/>
<circle cx="489.4" cy="679.6" r="2.1"/>
<circle cx="479.0" cy="686.7" r="2.1"/>
<circle cx="489.9" cy="644.0" r="2.1"/>
<circle cx="527.4" cy="674.5" r="2.1"/>
<circle cx="491.5" cy="654.0" r="2.1"/>
<circle cx="451.4" cy="680.3" r="2.1"/>
<circle cx="497.3" cy="679.5" r="2.1"/>
<circle cx="465.5" cy="672.9" r="2.1"/>
<circle cx="464.8" cy="687.2" r="2.1"/>
<circle cx="523.7" cy="682.1" r="2.1"/>
<circle cx="497.1" cy="644.1" r="2.1"/>
<circle cx="520.0" cy="680.3" r="2.1"/>
<circle cx="525.8" cy="673.4" r="2.1"/>
<circle cx="515.3" cy="641.3" r="2.1"/>
<circle cx="518.8" cy="645.0" r="2.1"/>
<circle cx="523.4" cy="672.0" r="2.1"/>
<circle cx="524.2" cy="678.3" r="2.1"/>
<circle cx="465.1" cy="675.2" r="2.1"/>
<circle cx="494.5" cy="669.2" r="2.1"/>
<circle cx="481.4" cy="654.5" r="2.1"/>
<circle cx="492.8" cy="679.9" r="2.1"/>
<circle cx="501.5" cy="681.1" r="2.1"/>
<circle cx="497.6" cy="682.4" r="2.1"/>
<circle cx="478.6" cy="657.3" r="2.1"/>
<circle cx="505.6" cy="635.5" r="2.1"/>
<circle cx="491.0" cy="634.7" r="2.1"/>
<circle cx="510.8" cy="668.1" r="2.1"/>
<circle cx="515.9" cy="677.4" r="2.1"/>
<circle cx="486.0" cy="675.0" r="2.1"/>
<circle cx="499.2" cy="667.6" r="2.1"/>
<circle cx="491.3" cy="630.1" r="2.1"/>
<circle cx="530.0" cy="683.8" r="2.1"/>
<circle cx="503.2" cy="635.6" r="2.1"/>
<circle cx="470.6" cy="675.2" r="2.1"/>
<circle cx="479.9" cy="645.1" r="2.1"/>
<circle cx="491.7" cy="682.7" r="2.1"/>
<circle cx="455.8" cy="673.2" r="2.1"/>
<circle cx="489.6" cy="672.2" r="2.1"/>
<circle cx="480.1" cy="683.6" r="2.1"/>
<circle cx="474.2" cy="663.4" r="2.1"/>
<circle cx="481.2" cy="687.9" r="2.1"/>
<circle cx="487.7" cy="666.2" r="2.1"/>
<circle cx="481.8" cy="635.0" r="2.1"/>
<circle cx="492.0" cy="667.2" r="2.1"/>
<circle cx="516.8" cy="674.5" r="2.1"/>
<circle cx="524.1" cy="650.8" r="2.1"/>
<circle cx="503.1" cy="673.7" r="2.1"/>
<circle cx="480.9" cy="684.3" r="2.1"/>
<circle cx="499.5" cy="665.7" r="2.1"/>
<circle cx="517.8" cy="676.1" r="2.1"/>
<circle cx="486.1" cy="650.4" r="2.1"/>
<circle cx="489.6" cy="679.7" r="2.1"/>
<circle cx="482.1" cy="637.1" r="2.1"/>
<circle cx="501.1" cy="680.7" r="2.1"/>
<circle cx="474.6" cy="669.1" r="2.1"/>
<circle cx="474.7" cy="647.5" r="2.1"/>
<circle cx="501.9" cy="676.8" r="2.1"/>
<circle cx="522.8" cy="680.9" r="2.1"/>
<circle cx="478.5" cy="682.4" r="2.1"/>
<circle cx="480.2" cy="666.9" r="2.1"/>
<circle cx="495.7" cy="650.1" r="2.1"/>
<circle cx="478.6" cy="644.6" r="2.1"/>
<circle cx="492.3" cy="660.8" r="2.1"/>
<circle cx="503.5" cy="685.2" r="2.1"/>
<circle cx="527.5" cy="685.1" r="2.1"/>
<circle cx="513.0" cy="665.3" r="2.1"/>
<circle cx="508.4" cy="645.6" r="2.1"/>
<circle cx="447.8" cy="670.8" r="2.1"/>
<circle cx="514.9" cy="668.2" r="2.1"/>
<circle cx="459.1" cy="659.6" r="2.1"/>
<circle cx="486.8" cy="652.8" r="2.1"/>
<circle cx="497.5" cy="656.4" r="2.1"/>
<circle cx="527.7" cy="678.4" r="2.1"/>
<circle cx="515.9" cy="681.2" r="2.1"/>
<circle cx="463.5" cy="677.2" r="2.1"/>
<circle cx="488.1" cy="687.4" r="2.1"/>
<circle cx="507.6" cy="674.3" r="2.1"/>
<circle cx="462.6" cy="652.5" r="2.1"/>
<circle cx="492.5" cy="641.1" r="2.1"/>
<circle cx="479.8" cy="668.3" r="2.1"/>
<circle cx="484.0" cy="660.5" r="2.1"/>
<circle cx="482.8" cy="672.8" r="2.1"/>
<circle cx="482.3" cy="633.0" r="2.1"/>
<circle cx="507.0" cy="683.7" r="2.1"/>
<circle cx="511.7" cy="666.4" r="2.1"/>
<circle cx="508.5" cy="675.3" r="2.1"/>
<circle cx="500.0" cy="663.5" r="2.1"/>
<circle cx="473.0" cy="667.0" r="2.1"/>
<circle cx="517.5" cy="660.7" r="2.1"/>
<circle cx="478.5" cy="680.3" r="2.1"/>
<circle cx="504.3" cy="636.2" r="2.1"/>
<circle cx="520.1" cy="686.6" r="2.1"/>
<circle cx="456.8" cy="683.8" r="2.1"/>
<circle cx="488.6" cy="685.0" r="2.1"/>
<circle cx="518.0" cy="687.7" r="2.1"/>
<circle cx="490.4" cy="674.2" r="2.1"/>
<circle cx="513.5" cy="484.0" r="2.1"/>
<circle cx="525.8" cy="479.7" r="2.1"/>
<circle cx="532.6" cy="530.4" r="2.1"/>
<circle cx="476.8" cy="537.6" r="2.1"/>
<circle cx="507.5" cy="536.9" r="2.1"/>
<circle cx="471.6" cy="549.0" r="2.1"/>
<circle cx="481.5" cy="546.8" r="2.1"/>
<circle cx="485.1" cy="550.0" r="2.1"/>
<circle cx="470.1" cy="557.4" r="2.1"/>
<circle cx="492.0" cy="566.8" r="2.1"/>
<circle cx="510.0" cy="566.5" r="2.1"/>
<circle cx="510.7" cy="570.6" r="2.1"/>
<circle cx="495.4" cy="571.3" r="2.1"/>
<circle cx="496.1" cy="573.8" r="2.1"/>
<circle cx="500.2" cy="572.3" r="2.1"/>
<circle cx="501.6" cy="571.3" r="2.1"/>
<circle cx="476.0" cy="572.8" r="2.1"/>
<circle cx="483.7" cy="575.3" r="2.1"/>
<circle cx="453.8" cy="576.7" r="2.1"/>
<circle cx="519.0" cy="578.2" r="2.1"/>
<circle cx="471.6" cy="579.9" r="2.1"/>
<circle cx="455.5" cy="584.5" r="2.1"/>
<circle cx="473.0" cy="585.2" r="2.1"/>
<circle cx="478.6" cy="583.7" r="2.1"/>
<circle cx="492.0" cy="582.8" r="2.1"/>
<circle cx="499.0" cy="585.9" r="2.1"/>
<circle cx="498.3" cy="589.1" r="2.1"/>
<circle cx="494.6" cy="589.1" r="2.1"/>
<circle cx="491.7" cy="591.0" r="2.1"/>
<circle cx="488.8" cy="592.5" r="2.1"/>
<circle cx="487.3" cy="593.1" r="2.1"/>
<circle cx="513.6" cy="585.9" r="2.1"/>
<circle cx="511.4" cy="589.1" r="2.1"/>
<circle cx="457.0" cy="590.3" r="2.1"/>
<circle cx="483.7" cy="591.3" r="2.1"/>
<circle cx="473.9" cy="594.2" r="2.1"/>
<circle cx="466.6" cy="596.7" r="2.1"/>
<circle cx="473.0" cy="598.6" r="2.1"/>
<circle cx="487.6" cy="597.4" r="2.1"/>
<circle cx="495.4" cy="596.7" r="2.1"/>
<circle cx="493.9" cy="597.9" r="2.1"/>
<circle cx="504.9" cy="596.7" r="2.1"/>
<circle cx="508.1" cy="596.0" r="2.1"/>
<circle cx="517.3" cy="594.7" r="2.1"/>
<circle cx="516.2" cy="597.9" r="2.1"/>
<circle cx="535.8" cy="598.6" r="2.1"/>
<circle cx="490.0" cy="591.4" r="2.1"/>
<circle cx="495.3" cy="588.5" r="2.1"/>
<circle cx="497.0" cy="596.7" r="2.1"/>
<circle cx="473.1" cy="599.0" r="2.1"/>
<circle cx="493.5" cy="600.8" r="2.1"/>
<circle cx="495.3" cy="602.5" r="2.1"/>
<circle cx="534.4" cy="599.0" r="2.1"/>
<circle cx="514.6" cy="604.3" r="2.1"/>
<circle cx="514.6" cy="607.2" r="2.1"/>
<circle cx="483.0" cy="600.2" r="2.1"/>
<circle cx="483.0" cy="603.7" r="2.1"/>
<circle cx="485.6" cy="605.4" r="2.1"/>
<circle cx="464.6" cy="605.8" r="2.1"/>
<circle cx="468.4" cy="604.3" r="2.1"/>
<circle cx="478.9" cy="606.0" r="2.1"/>
<circle cx="480.7" cy="607.4" r="2.1"/>
<circle cx="486.0" cy="610.1" r="2.1"/>
<circle cx="488.9" cy="610.5" r="2.1"/>
<circle cx="491.2" cy="611.9" r="2.1"/>
<circle cx="498.2" cy="609.5" r="2.1"/>
<circle cx="500.0" cy="611.9" r="2.1"/>
<circle cx="502.6" cy="609.8" r="2.1"/>
<circle cx="508.1" cy="610.7" r="2.1"/>
<circle cx="509.9" cy="614.2" r="2.1"/>
<circle cx="476.0" cy="613.0" r="2.1"/>
<circle cx="478.4" cy="615.1" r="2.1"/>
<circle cx="473.7" cy="616.5" r="2.1"/>
<circle cx="484.0" cy="615.1" r="2.1"/>
<circle cx="455.9" cy="617.1" r="2.1"/>
<circle cx="491.8" cy="616.8" r="2.1"/>
<circle cx="487.7" cy="619.1" r="2.1"/>
<circle cx="486.0" cy="618.9" r="2.1"/>
<circle cx="472.5" cy="620.6" r="2.1"/>
<circle cx="462.9" cy="621.8" r="2.1"/>
<circle cx="497.6" cy="619.5" r="2.1"/>
<circle cx="500.5" cy="619.8" r="2.1"/>
<circle cx="507.0" cy="621.8" r="2.1"/>
<circle cx="526.2" cy="619.5" r="2.1"/>
<circle cx="528.6" cy="618.9" r="2.1"/>
<circle cx="518.6" cy="623.8" r="2.1"/>
<circle cx="515.7" cy="626.5" r="2.1"/>
<circle cx="525.1" cy="625.9" r="2.1"/>
<circle cx="529.7" cy="624.7" r="2.1"/>
<circle cx="425.7" cy="640.9" r="2.1"/>
<circle cx="444.0" cy="618.9" r="2.1"/>
<circle cx="444.0" cy="629.5" r="2.1"/>
<circle cx="455.3" cy="617.0" r="2.1"/>
<circle cx="430.8" cy="666.0" r="2.1"/>
<circle cx="430.8" cy="671.5" r="2.1"/>
<circle cx="439.5" cy="669.7" r="2.1"/>
<circle cx="442.4" cy="669.2" r="2.1"/>
<circle cx="443.0" cy="675.2" r="2.1"/>
<circle cx="437.8" cy="681.4" r="2.1"/>
<circle cx="432.5" cy="685.2" r="2.1"/>
<circle cx="442.1" cy="687.5" r="2.1"/>
<circle cx="447.1" cy="655.4" r="2.1"/>
<circle cx="450.6" cy="651.6" r="2.1"/>
<circle cx="451.2" cy="643.8" r="2.1"/>
<circle cx="451.8" cy="636.5" r="2.1"/>
<circle cx="447.1" cy="671.5" r="2.1"/>
<circle cx="448.9" cy="665.1" r="2.1"/>
<circle cx="451.8" cy="662.2" r="2.1"/>
<circle cx="454.1" cy="665.1" r="2.1"/>
<circle cx="539.6" cy="612.5" r="2.1"/>
<circle cx="543.5" cy="617.8" r="2.1"/>
<circle cx="538.8" cy="620.9" r="2.1"/>
<circle cx="554.8" cy="619.5" r="2.1"/>
<circle cx="542.0" cy="629.1" r="2.1"/>
<circle cx="543.7" cy="628.6" r="2.1"/>
<circle cx="534.1" cy="635.0" r="2.1"/>
<circle cx="528.0" cy="633.0" r="2.1"/>
<circle cx="554.0" cy="642.9" r="2.1"/>
<circle cx="542.0" cy="641.1" r="2.1"/>
<circle cx="544.9" cy="642.9" r="2.1"/>
<circle cx="542.0" cy="647.8" r="2.1"/>
<circle cx="544.9" cy="652.2" r="2.1"/>
<circle cx="542.0" cy="655.5" r="2.1"/>
<circle cx="536.5" cy="649.1" r="2.1"/>
<circle cx="555.8" cy="662.2" r="2.1"/>
<circle cx="544.9" cy="660.8" r="2.1"/>
<circle cx="535.0" cy="660.8" r="2.1"/>
<circle cx="543.5" cy="665.4" r="2.1"/>
<circle cx="537.9" cy="665.1" r="2.1"/>
<circle cx="533.4" cy="667.4" r="2.1"/>
<circle cx="539.1" cy="672.7" r="2.1"/>
<circle cx="541.4" cy="670.9" r="2.1"/>
<circle cx="543.7" cy="672.7" r="2.1"/>
<circle cx="540.8" cy="680.8" r="2.1"/>
<circle cx="544.9" cy="677.9" r="2.1"/>
<circle cx="547.8" cy="678.2" r="2.1"/>
<circle cx="553.1" cy="675.2" r="2.1"/>
<circle cx="561.0" cy="675.8" r="2.1"/>
<circle cx="546.4" cy="682.8" r="2.1"/>
<circle cx="554.8" cy="682.8" r="2.1"/>
<circle cx="537.9" cy="685.9" r="2.1"/>
<circle cx="525.6" cy="619.0" r="2.1"/>
<circle cx="521.5" cy="630.0" r="2.1"/>
<circle cx="523.9" cy="629.8" r="2.1"/>
<circle cx="530.3" cy="646.4" r="2.1"/>
<circle cx="528.5" cy="648.7" r="2.1"/>
<circle cx="532.6" cy="653.4" r="2.1"/>
<circle cx="529.7" cy="655.7" r="2.1"/>
<circle cx="525.0" cy="640.0" r="2.1"/></g>
<g fill="#F8766D"><circle cx="71.8" cy="307.8" r="2.4"/><circle cx="71.7" cy="826.6" r="2.4"/></g>
<circle cx="609" cy="370.4" r="2.3" fill="#F8766D"/><circle cx="609" cy="388" r="2.3" fill="#00BA38"/><circle cx="609" cy="405.3" r="2.3" fill="#619CFF"/>
<g style="opacity:0.995">
<text x="54" y="12.3" text-anchor="start" >On-site open reading of imaging</text>
<text x="42" y="105.6" text-anchor="end" >800</text>
<text x="42" y="208.8" text-anchor="end" >400</text>
<text x="42" y="311.8" text-anchor="end" >0</text>
<text x="71.4" y="405.2" text-anchor="middle" >0</text>
<text x="243.3" y="405.2" text-anchor="middle" >0.2</text>
<text x="418.6" y="405.2" text-anchor="middle" >0.4</text>
<text x="315" y="420.7" text-anchor="middle" >Incremental effect</text>
<text transform="translate(15.1,208.7) rotate(-90)" text-anchor="middle">Incremental cost in Euros</text>
<text x="57.3" y="468.6" text-anchor="start" >Central masked reading of imaging</text>
<text x="42" y="577.3" text-anchor="end" >1.000</text>
<text x="42" y="703.9" text-anchor="end" >500</text>
<text x="42" y="830.8" text-anchor="end" >0</text>
<text x="71.3" y="858.6" text-anchor="middle" >0</text>
<text x="232.4" y="858.6" text-anchor="middle" >0.05</text>
<text x="391.9" y="858.6" text-anchor="middle" >0.10</text>
<text x="552.5" y="858.6" text-anchor="middle" >0.15</text>
<text x="348.5" y="876.2" text-anchor="middle" >Incremental effect</text>
<text transform="translate(10.2,672) rotate(-90)" text-anchor="middle">Incremental cost in Euros</text>
<text x="624" y="374.7" text-anchor="start" >DW-MRI</text>
<text x="624" y="392.3" text-anchor="start" >FCH</text>
<text x="624" y="409.6" text-anchor="start" >NAF</text>
</g>
</svg>
</body></html>
